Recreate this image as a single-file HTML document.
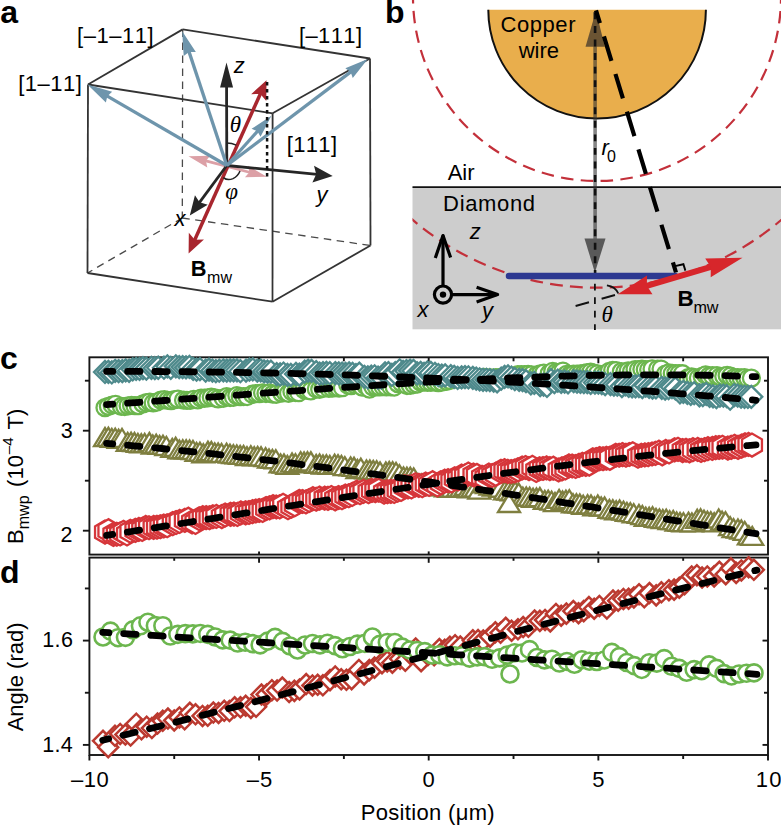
<!DOCTYPE html>
<html><head><meta charset="utf-8"><style>
html,body{margin:0;padding:0;background:#fff;overflow:hidden;}
svg{display:block;}
text{font-kerning:none;}
</style></head><body>
<svg width="781" height="826" viewBox="0 0 781 826">
<rect width="781" height="826" fill="#fff"/>
<text x="0.26" y="23.3" font-size="32" font-family="'Liberation Sans', sans-serif" font-weight="bold">a</text>
<line x1="182.7" y1="29.4" x2="182.3" y2="218" stroke="#4a4a4a" stroke-width="1.3" stroke-dasharray="7.5 5.5"/>
<line x1="182.3" y1="218" x2="87.5" y2="273" stroke="#4a4a4a" stroke-width="1.3" stroke-dasharray="7.5 5.5"/>
<line x1="182.3" y1="218" x2="370.5" y2="245.5" stroke="#4a4a4a" stroke-width="1.3" stroke-dasharray="7.5 5.5"/>
<line x1="88" y1="84.5" x2="182.7" y2="29.4" stroke="#333333" stroke-width="1.8" />
<line x1="182.7" y1="29.4" x2="370" y2="58.5" stroke="#333333" stroke-width="1.8" />
<line x1="370" y1="58.5" x2="272.6" y2="113.3" stroke="#333333" stroke-width="1.8" />
<line x1="272.6" y1="113.3" x2="88" y2="84.5" stroke="#333333" stroke-width="1.8" />
<line x1="88" y1="84.5" x2="87.5" y2="273" stroke="#333333" stroke-width="1.8" />
<line x1="272.6" y1="113.3" x2="272.5" y2="301.7" stroke="#333333" stroke-width="1.8" />
<line x1="370" y1="58.5" x2="370.5" y2="245.5" stroke="#333333" stroke-width="1.8" />
<line x1="87.5" y1="273" x2="272.5" y2="301.7" stroke="#333333" stroke-width="1.8" />
<line x1="272.5" y1="301.7" x2="370.5" y2="245.5" stroke="#333333" stroke-width="1.8" />
<line x1="204.95" y1="160.61" x2="250.35" y2="172.49" stroke="#dca0a6" stroke-width="2.8"/><polygon points="266.8,176.8 244.97,177.29 249.39,172.24 248,165.68" fill="#dca0a6"/><polygon points="188.5,156.3 210.33,155.81 205.91,160.86 207.3,167.42" fill="#dca0a6"/>
<line x1="194.34" y1="240.73" x2="260.76" y2="92.97" stroke="#a8262e" stroke-width="3.5"/><polygon points="266.5,80.2 266.28,100.93 260.35,93.88 251.14,94.13" fill="#a8262e"/><polygon points="188.6,253.5 188.82,232.77 194.75,239.82 203.96,239.57" fill="#a8262e"/>
<line x1="226.8" y1="165.5" x2="226.57" y2="86.6" stroke="#262626" stroke-width="2.8"/><polygon points="226.5,62.6 233.07,87.58 226.57,87.6 220.07,87.62" fill="#262626"/>
<line x1="226.8" y1="165.5" x2="317.18" y2="174.46" stroke="#262626" stroke-width="2.8"/><polygon points="332.7,176 312.37,182.43 316.18,174.36 314.02,165.71" fill="#262626"/>
<line x1="226.8" y1="165.5" x2="198.96" y2="203.12" stroke="#262626" stroke-width="2.8"/><polygon points="189.8,215.5 194.95,195.18 199.56,202.32 207.73,204.63" fill="#262626"/>
<line x1="226.8" y1="165.5" x2="106.43" y2="95.64" stroke="#6e95ac" stroke-width="3.3"/><polygon points="87.4,84.6 112.16,91.74 107.29,96.14 105.89,102.55" fill="#6e95ac"/>
<line x1="226.8" y1="165.5" x2="188.82" y2="51.13" stroke="#6e95ac" stroke-width="3.3"/><polygon points="182.2,31.2 195.84,51.96 189.13,52.08 183.69,55.99" fill="#6e95ac"/>
<line x1="226.8" y1="165.5" x2="351.44" y2="71.36" stroke="#6e95ac" stroke-width="3.3"/><polygon points="367.8,59 352.75,78.07 350.64,71.96 345.34,68.26" fill="#6e95ac"/>
<line x1="226.8" y1="165.5" x2="258.06" y2="130.6" stroke="#6e95ac" stroke-width="3.3"/><polygon points="271.4,115.7 260.53,136.84 257.39,131.34 251.59,128.83" fill="#6e95ac"/>
<line x1="267.1" y1="82" x2="267.1" y2="178" stroke="#111" stroke-width="2.5" stroke-dasharray="3.5 3.5"/>
<path d="M226.8,143 A22.5,22.5 0 0 1 236.29,145.1" fill="none" stroke="#222" stroke-width="1.5"/>
<path d="M223.4,177.6 Q227.5,181 233,178.6 Q238,176.2 240,171" fill="none" stroke="#222" stroke-width="1.5"/>
<text x="77.03" y="42.6" font-size="22" font-family="'Liberation Sans', sans-serif"  letter-spacing="0.52">[–1–11]</text>
<text x="18.23" y="91.1" font-size="22" font-family="'Liberation Sans', sans-serif"  letter-spacing="0.49">[1–11]</text>
<text x="299.03" y="42.6" font-size="22" font-family="'Liberation Sans', sans-serif"  letter-spacing="0.37">[–111]</text>
<text x="286.73" y="152.1" font-size="22" font-family="'Liberation Sans', sans-serif"  letter-spacing="0.35">[111]</text>
<text x="233.73" y="72.8" font-size="22" font-family="'Liberation Sans', sans-serif" font-style="italic">z</text>
<text x="316.47" y="201.8" font-size="22" font-family="'Liberation Sans', sans-serif" font-style="italic">y</text>
<text x="174.57" y="226.1" font-size="22" font-family="'Liberation Sans', sans-serif" font-style="italic">x</text>
<text x="229.78" y="132.3" font-size="23" font-family="'Liberation Serif', serif" font-style="italic">θ</text>
<text x="225.31" y="198.6" font-size="23" font-family="'Liberation Serif', serif" font-style="italic">φ</text>
<text x="190.84" y="275.6" font-size="21.8" font-family="'Liberation Sans', sans-serif" font-weight="bold">B</text>
<text x="206.94" y="282.6" font-size="16" font-family="'Liberation Sans', sans-serif"  letter-spacing="0.14">mw</text>
<text x="385.09" y="23.3" font-size="32" font-family="'Liberation Sans', sans-serif" font-weight="bold">b</text>
<defs><clipPath id="cb"><rect x="412.5" y="0" width="369" height="330"/></clipPath></defs>
<rect x="412.5" y="187" width="369" height="142.3" fill="#cdcdcd"/>
<line x1="412.5" y1="187.1" x2="781" y2="187.1" stroke="#111" stroke-width="1.8"/>
<circle cx="597" cy="-3" r="184" fill="none" stroke="#c3303a" stroke-width="2.2" stroke-dasharray="12.5 7.4" stroke-dashoffset="5.8"/>
<g clip-path="url(#cb)"><circle cx="597" cy="3.3" r="284.4" fill="none" stroke="#c3303a" stroke-width="2.2" stroke-dasharray="12.8 7.2" stroke-dashoffset="19.1"/></g>
<path d="M488.3,9.7 A108.8,108.8 0 0 0 705.9,9.7 Z" fill="#e9ae4c" stroke="none"/>
<path d="M488.3,9.7 A108.8,108.8 0 0 0 705.9,9.7" fill="none" stroke="#111" stroke-width="2"/>
<text x="500.58" y="31.9" font-size="22" font-family="'Liberation Sans', sans-serif"  letter-spacing="0.55">Copper</text>
<text x="518.63" y="58.4" font-size="22" font-family="'Liberation Sans', sans-serif" >wire</text>
<line x1="595.1" y1="12" x2="595.1" y2="262" stroke="#333" stroke-opacity="0.6" stroke-width="3.6"/>
<polygon points="596,10.8 585.5,46.8 604.8,46.8" fill="#6b5433"/>
<polygon points="594.9,272.5 584.5,238.5 605.5,238.5" fill="#595959"/>
<line x1="595.1" y1="10.8" x2="595.1" y2="273" stroke="#111" stroke-width="2.6" stroke-dasharray="6.9 6.65" stroke-dashoffset="11.9"/>
<line x1="596" y1="10.3" x2="676" y2="272.5" stroke="#000" stroke-width="4.2" stroke-dasharray="25.6 13.8" stroke-dashoffset="12.2"/>
<polyline points="675,266.1 683.4,264.2 685.4,270.6" fill="none" stroke="#000" stroke-width="1.9"/>
<line x1="509" y1="276" x2="675" y2="276" stroke="#2d3991" stroke-width="6.5" stroke-linecap="round"/>
<line x1="594.9" y1="283.8" x2="594.9" y2="330" stroke="#111" stroke-width="1.8" stroke-dasharray="6.6 6.9"/>
<line x1="615" y1="295" x2="572" y2="307" stroke="#111" stroke-width="1.9" stroke-dasharray="13.9 13.1"/>
<path d="M606.9,285.3 Q615.5,286.5 618.3,293.5" fill="none" stroke="#111" stroke-width="1.8"/>
<line x1="645.91" y1="286.03" x2="711.79" y2="266.71" stroke="#d7262b" stroke-width="6"/><polygon points="742.5,257.7 710.7,277.19 710.83,266.99 705.21,258.48" fill="#d7262b"/><polygon points="617.7,294.3 647.01,275.54 646.87,285.74 652.49,294.26" fill="#d7262b"/>
<text x="601.38" y="321.5" font-size="23" font-family="'Liberation Serif', serif" font-style="italic">θ</text>
<text x="677.6" y="306.3" font-size="22.4" font-family="'Liberation Sans', sans-serif" font-weight="bold">B</text>
<text x="693.42" y="313" font-size="16.2" font-family="'Liberation Sans', sans-serif"  letter-spacing="-0.16">mw</text>
<text x="601.43" y="155.2" font-size="22" font-family="'Liberation Sans', sans-serif" font-style="italic">r</text>
<text x="607.08" y="161.9" font-size="16" font-family="'Liberation Sans', sans-serif" >0</text>
<text x="447.66" y="179.5" font-size="22" font-family="'Liberation Sans', sans-serif" >Air</text>
<text x="443.1" y="211.2" font-size="22" font-family="'Liberation Sans', sans-serif"  letter-spacing="0.65">Diamond</text>
<circle cx="443" cy="294.6" r="8.6" fill="none" stroke="#000" stroke-width="3.2"/>
<circle cx="443" cy="294.6" r="3.2" fill="#000"/>
<line x1="443" y1="286" x2="443" y2="235.5" stroke="#000" stroke-width="3.2"/>
<polyline points="435.3,258 443,235.6 450.6,257.5" fill="none" stroke="#000" stroke-width="3.2" stroke-linejoin="round"/>
<line x1="451.6" y1="294.6" x2="496.5" y2="294.6" stroke="#000" stroke-width="3.2"/>
<polyline points="476.6,287.2 497.6,294.6 476.6,302" fill="none" stroke="#000" stroke-width="3.2" stroke-linejoin="round"/>
<text x="469.83" y="239.3" font-size="22" font-family="'Liberation Sans', sans-serif" font-style="italic">z</text>
<text x="417.57" y="317.2" font-size="22" font-family="'Liberation Sans', sans-serif" font-style="italic">x</text>
<text x="482.12" y="318.1" font-size="22" font-family="'Liberation Sans', sans-serif" font-style="italic">y</text>
<rect x="89.4" y="357.3" width="678.6" height="197.3" fill="none" stroke="#161616" stroke-width="1.9"/>
<rect x="89.4" y="557.6" width="678.6" height="197.4" fill="none" stroke="#161616" stroke-width="1.9"/>
<line x1="89.4" y1="755" x2="89.4" y2="760.5" stroke="#161616" stroke-width="1.9"/>
<line x1="174.23" y1="357.3" x2="174.23" y2="361.3" stroke="#161616" stroke-width="1.9"/>
<line x1="174.23" y1="557.6" x2="174.23" y2="560.8" stroke="#161616" stroke-width="1.9"/>
<line x1="174.23" y1="755" x2="174.23" y2="759" stroke="#161616" stroke-width="1.9"/>
<line x1="259.05" y1="357.3" x2="259.05" y2="363.3" stroke="#161616" stroke-width="1.9"/>
<line x1="259.05" y1="554.6" x2="259.05" y2="551.4" stroke="#161616" stroke-width="1.9"/>
<line x1="259.05" y1="557.6" x2="259.05" y2="562.8" stroke="#161616" stroke-width="1.9"/>
<line x1="259.05" y1="755" x2="259.05" y2="760.5" stroke="#161616" stroke-width="1.9"/>
<line x1="343.88" y1="357.3" x2="343.88" y2="361.3" stroke="#161616" stroke-width="1.9"/>
<line x1="343.88" y1="557.6" x2="343.88" y2="560.8" stroke="#161616" stroke-width="1.9"/>
<line x1="343.88" y1="755" x2="343.88" y2="759" stroke="#161616" stroke-width="1.9"/>
<line x1="428.7" y1="357.3" x2="428.7" y2="363.3" stroke="#161616" stroke-width="1.9"/>
<line x1="428.7" y1="554.6" x2="428.7" y2="551.4" stroke="#161616" stroke-width="1.9"/>
<line x1="428.7" y1="557.6" x2="428.7" y2="562.8" stroke="#161616" stroke-width="1.9"/>
<line x1="428.7" y1="755" x2="428.7" y2="760.5" stroke="#161616" stroke-width="1.9"/>
<line x1="513.52" y1="357.3" x2="513.52" y2="361.3" stroke="#161616" stroke-width="1.9"/>
<line x1="513.52" y1="557.6" x2="513.52" y2="560.8" stroke="#161616" stroke-width="1.9"/>
<line x1="513.52" y1="755" x2="513.52" y2="759" stroke="#161616" stroke-width="1.9"/>
<line x1="598.35" y1="357.3" x2="598.35" y2="363.3" stroke="#161616" stroke-width="1.9"/>
<line x1="598.35" y1="554.6" x2="598.35" y2="551.4" stroke="#161616" stroke-width="1.9"/>
<line x1="598.35" y1="557.6" x2="598.35" y2="562.8" stroke="#161616" stroke-width="1.9"/>
<line x1="598.35" y1="755" x2="598.35" y2="760.5" stroke="#161616" stroke-width="1.9"/>
<line x1="683.17" y1="357.3" x2="683.17" y2="361.3" stroke="#161616" stroke-width="1.9"/>
<line x1="683.17" y1="557.6" x2="683.17" y2="560.8" stroke="#161616" stroke-width="1.9"/>
<line x1="683.17" y1="755" x2="683.17" y2="759" stroke="#161616" stroke-width="1.9"/>
<line x1="768" y1="755" x2="768" y2="760.5" stroke="#161616" stroke-width="1.9"/>
<line x1="89.4" y1="530.7" x2="82.9" y2="530.7" stroke="#161616" stroke-width="1.9"/>
<line x1="768" y1="530.7" x2="762.5" y2="530.7" stroke="#161616" stroke-width="1.9"/>
<line x1="89.4" y1="480.7" x2="84.9" y2="480.7" stroke="#161616" stroke-width="1.9"/>
<line x1="768" y1="480.7" x2="764" y2="480.7" stroke="#161616" stroke-width="1.9"/>
<line x1="89.4" y1="430.7" x2="82.9" y2="430.7" stroke="#161616" stroke-width="1.9"/>
<line x1="768" y1="430.7" x2="762.5" y2="430.7" stroke="#161616" stroke-width="1.9"/>
<line x1="89.4" y1="380.7" x2="84.9" y2="380.7" stroke="#161616" stroke-width="1.9"/>
<line x1="768" y1="380.7" x2="764" y2="380.7" stroke="#161616" stroke-width="1.9"/>
<line x1="89.4" y1="744.9" x2="82.9" y2="744.9" stroke="#161616" stroke-width="1.9"/>
<line x1="768" y1="744.9" x2="762.5" y2="744.9" stroke="#161616" stroke-width="1.9"/>
<line x1="89.4" y1="692.75" x2="84.9" y2="692.75" stroke="#161616" stroke-width="1.9"/>
<line x1="768" y1="692.75" x2="764" y2="692.75" stroke="#161616" stroke-width="1.9"/>
<line x1="89.4" y1="640.6" x2="82.9" y2="640.6" stroke="#161616" stroke-width="1.9"/>
<line x1="768" y1="640.6" x2="762.5" y2="640.6" stroke="#161616" stroke-width="1.9"/>
<line x1="89.4" y1="588.45" x2="84.9" y2="588.45" stroke="#161616" stroke-width="1.9"/>
<line x1="768" y1="588.45" x2="764" y2="588.45" stroke="#161616" stroke-width="1.9"/>
<text x="60.78" y="438.4" font-size="21.5" font-family="'Liberation Sans', sans-serif" >3</text>
<text x="60.52" y="542.4" font-size="21.5" font-family="'Liberation Sans', sans-serif" >2</text>
<text x="42.16" y="647.2" font-size="21.5" font-family="'Liberation Sans', sans-serif"  letter-spacing="0.45">1.6</text>
<text x="42.16" y="751.5" font-size="21.5" font-family="'Liberation Sans', sans-serif"  letter-spacing="0.29">1.4</text>
<text x="70.88" y="786.6" font-size="22" font-family="'Liberation Sans', sans-serif"  letter-spacing="0.6">–10</text>
<text x="246.68" y="786.6" font-size="22" font-family="'Liberation Sans', sans-serif"  letter-spacing="1.2">–5</text>
<text x="422.58" y="786.6" font-size="22" font-family="'Liberation Sans', sans-serif" >0</text>
<text x="592.25" y="786.6" font-size="22" font-family="'Liberation Sans', sans-serif" >5</text>
<text x="755.76" y="786.6" font-size="22" font-family="'Liberation Sans', sans-serif"  letter-spacing="1.2">10</text>
<text x="360.7" y="819.8" font-size="22" font-family="'Liberation Sans', sans-serif"  letter-spacing="0.33">Position (μm)</text>
<text x="-0.05" y="368.9" font-size="32" font-family="'Liberation Sans', sans-serif" font-weight="bold">c</text>
<text x="-0.11" y="583.2" font-size="32" font-family="'Liberation Sans', sans-serif" font-weight="bold">d</text>
<text transform="translate(22.8,544) rotate(-90)" font-size="22" font-family="Liberation Sans, sans-serif">B<tspan font-size="16" x="14.8" dy="6.2">mwp</tspan><tspan x="57.1" dy="-6.2">(10</tspan><tspan font-size="15" x="89.8" dy="-10.2">–4</tspan><tspan x="114.5" dy="10.2">T)</tspan></text>
<text transform="translate(22.8,731.3) rotate(-90)" font-size="22" font-family="Liberation Sans, sans-serif">Angle (rad)</text>
<g>
<circle cx="105" cy="407.64" r="8.5" fill="#fff" stroke="#6cb64e" stroke-width="2.3"/>
<circle cx="108.4" cy="406.36" r="8.5" fill="#fff" stroke="#6cb64e" stroke-width="2.3"/>
<circle cx="112.17" cy="405.03" r="8.5" fill="#fff" stroke="#6cb64e" stroke-width="2.3"/>
<circle cx="115.57" cy="404.42" r="8.5" fill="#fff" stroke="#6cb64e" stroke-width="2.3"/>
<circle cx="121.34" cy="406.31" r="8.5" fill="#fff" stroke="#6cb64e" stroke-width="2.3"/>
<circle cx="124.74" cy="406.54" r="8.5" fill="#fff" stroke="#6cb64e" stroke-width="2.3"/>
<circle cx="128.14" cy="405.81" r="8.5" fill="#fff" stroke="#6cb64e" stroke-width="2.3"/>
<circle cx="131.54" cy="405.42" r="8.5" fill="#fff" stroke="#6cb64e" stroke-width="2.3"/>
<circle cx="134.94" cy="405.68" r="8.5" fill="#fff" stroke="#6cb64e" stroke-width="2.3"/>
<circle cx="138.34" cy="405.65" r="8.5" fill="#fff" stroke="#6cb64e" stroke-width="2.3"/>
<circle cx="143.02" cy="403.88" r="8.5" fill="#fff" stroke="#6cb64e" stroke-width="2.3"/>
<circle cx="146.42" cy="402.7" r="8.5" fill="#fff" stroke="#6cb64e" stroke-width="2.3"/>
<circle cx="149.82" cy="402.06" r="8.5" fill="#fff" stroke="#6cb64e" stroke-width="2.3"/>
<circle cx="153.22" cy="402.96" r="8.5" fill="#fff" stroke="#6cb64e" stroke-width="2.3"/>
<circle cx="156.62" cy="402.08" r="8.5" fill="#fff" stroke="#6cb64e" stroke-width="2.3"/>
<circle cx="160.9" cy="400.13" r="8.5" fill="#fff" stroke="#6cb64e" stroke-width="2.3"/>
<circle cx="164.3" cy="399.7" r="8.5" fill="#fff" stroke="#6cb64e" stroke-width="2.3"/>
<circle cx="167.7" cy="400.37" r="8.5" fill="#fff" stroke="#6cb64e" stroke-width="2.3"/>
<circle cx="171.1" cy="400.64" r="8.5" fill="#fff" stroke="#6cb64e" stroke-width="2.3"/>
<circle cx="174.5" cy="399.71" r="8.5" fill="#fff" stroke="#6cb64e" stroke-width="2.3"/>
<circle cx="177.9" cy="399.16" r="8.5" fill="#fff" stroke="#6cb64e" stroke-width="2.3"/>
<circle cx="183.54" cy="400.11" r="8.5" fill="#fff" stroke="#6cb64e" stroke-width="2.3"/>
<circle cx="186.94" cy="400.37" r="8.5" fill="#fff" stroke="#6cb64e" stroke-width="2.3"/>
<circle cx="190.34" cy="400.41" r="8.5" fill="#fff" stroke="#6cb64e" stroke-width="2.3"/>
<circle cx="193.74" cy="399.41" r="8.5" fill="#fff" stroke="#6cb64e" stroke-width="2.3"/>
<circle cx="197.69" cy="399.81" r="8.5" fill="#fff" stroke="#6cb64e" stroke-width="2.3"/>
<circle cx="201.09" cy="398.13" r="8.5" fill="#fff" stroke="#6cb64e" stroke-width="2.3"/>
<circle cx="204.49" cy="398.25" r="8.5" fill="#fff" stroke="#6cb64e" stroke-width="2.3"/>
<circle cx="207.89" cy="397.89" r="8.5" fill="#fff" stroke="#6cb64e" stroke-width="2.3"/>
<circle cx="211.29" cy="397.1" r="8.5" fill="#fff" stroke="#6cb64e" stroke-width="2.3"/>
<circle cx="214.73" cy="397.84" r="8.5" fill="#fff" stroke="#6cb64e" stroke-width="2.3"/>
<circle cx="218.13" cy="398.86" r="8.5" fill="#fff" stroke="#6cb64e" stroke-width="2.3"/>
<circle cx="223.26" cy="398.26" r="8.5" fill="#fff" stroke="#6cb64e" stroke-width="2.3"/>
<circle cx="226.66" cy="396.63" r="8.5" fill="#fff" stroke="#6cb64e" stroke-width="2.3"/>
<circle cx="230.06" cy="397.55" r="8.5" fill="#fff" stroke="#6cb64e" stroke-width="2.3"/>
<circle cx="233.46" cy="397.29" r="8.5" fill="#fff" stroke="#6cb64e" stroke-width="2.3"/>
<circle cx="236.86" cy="395.61" r="8.5" fill="#fff" stroke="#6cb64e" stroke-width="2.3"/>
<circle cx="240.26" cy="396.63" r="8.5" fill="#fff" stroke="#6cb64e" stroke-width="2.3"/>
<circle cx="243.72" cy="396.53" r="8.5" fill="#fff" stroke="#6cb64e" stroke-width="2.3"/>
<circle cx="247.12" cy="396.53" r="8.5" fill="#fff" stroke="#6cb64e" stroke-width="2.3"/>
<circle cx="252.37" cy="394.24" r="8.5" fill="#fff" stroke="#6cb64e" stroke-width="2.3"/>
<circle cx="255.77" cy="393.56" r="8.5" fill="#fff" stroke="#6cb64e" stroke-width="2.3"/>
<circle cx="259.17" cy="393.67" r="8.5" fill="#fff" stroke="#6cb64e" stroke-width="2.3"/>
<circle cx="262.57" cy="392.81" r="8.5" fill="#fff" stroke="#6cb64e" stroke-width="2.3"/>
<circle cx="265.97" cy="393.53" r="8.5" fill="#fff" stroke="#6cb64e" stroke-width="2.3"/>
<circle cx="269.37" cy="392.99" r="8.5" fill="#fff" stroke="#6cb64e" stroke-width="2.3"/>
<circle cx="272.81" cy="394.18" r="8.5" fill="#fff" stroke="#6cb64e" stroke-width="2.3"/>
<circle cx="276.21" cy="394.25" r="8.5" fill="#fff" stroke="#6cb64e" stroke-width="2.3"/>
<circle cx="281.74" cy="393.07" r="8.5" fill="#fff" stroke="#6cb64e" stroke-width="2.3"/>
<circle cx="285.14" cy="392.28" r="8.5" fill="#fff" stroke="#6cb64e" stroke-width="2.3"/>
<circle cx="288.54" cy="393.39" r="8.5" fill="#fff" stroke="#6cb64e" stroke-width="2.3"/>
<circle cx="291.94" cy="391.63" r="8.5" fill="#fff" stroke="#6cb64e" stroke-width="2.3"/>
<circle cx="295.34" cy="392.48" r="8.5" fill="#fff" stroke="#6cb64e" stroke-width="2.3"/>
<circle cx="298.74" cy="392.68" r="8.5" fill="#fff" stroke="#6cb64e" stroke-width="2.3"/>
<circle cx="304.01" cy="389.72" r="8.5" fill="#fff" stroke="#6cb64e" stroke-width="2.3"/>
<circle cx="307.41" cy="390.41" r="8.5" fill="#fff" stroke="#6cb64e" stroke-width="2.3"/>
<circle cx="310.81" cy="390.93" r="8.5" fill="#fff" stroke="#6cb64e" stroke-width="2.3"/>
<circle cx="316.32" cy="389.01" r="8.5" fill="#fff" stroke="#6cb64e" stroke-width="2.3"/>
<circle cx="319.72" cy="389.3" r="8.5" fill="#fff" stroke="#6cb64e" stroke-width="2.3"/>
<circle cx="323.12" cy="388.36" r="8.5" fill="#fff" stroke="#6cb64e" stroke-width="2.3"/>
<circle cx="328.84" cy="388.47" r="8.5" fill="#fff" stroke="#6cb64e" stroke-width="2.3"/>
<circle cx="332.24" cy="388.12" r="8.5" fill="#fff" stroke="#6cb64e" stroke-width="2.3"/>
<circle cx="335.64" cy="387.57" r="8.5" fill="#fff" stroke="#6cb64e" stroke-width="2.3"/>
<circle cx="339.04" cy="388.01" r="8.5" fill="#fff" stroke="#6cb64e" stroke-width="2.3"/>
<circle cx="342.44" cy="387.72" r="8.5" fill="#fff" stroke="#6cb64e" stroke-width="2.3"/>
<circle cx="347.74" cy="384.82" r="8.5" fill="#fff" stroke="#6cb64e" stroke-width="2.3"/>
<circle cx="351.14" cy="385.6" r="8.5" fill="#fff" stroke="#6cb64e" stroke-width="2.3"/>
<circle cx="354.54" cy="384.53" r="8.5" fill="#fff" stroke="#6cb64e" stroke-width="2.3"/>
<circle cx="357.94" cy="383.56" r="8.5" fill="#fff" stroke="#6cb64e" stroke-width="2.3"/>
<circle cx="362.23" cy="387.06" r="8.5" fill="#fff" stroke="#6cb64e" stroke-width="2.3"/>
<circle cx="365.63" cy="385.61" r="8.5" fill="#fff" stroke="#6cb64e" stroke-width="2.3"/>
<circle cx="369.43" cy="389.13" r="8.5" fill="#fff" stroke="#6cb64e" stroke-width="2.3"/>
<circle cx="372.83" cy="386.87" r="8.5" fill="#fff" stroke="#6cb64e" stroke-width="2.3"/>
<circle cx="376.33" cy="386.84" r="8.5" fill="#fff" stroke="#6cb64e" stroke-width="2.3"/>
<circle cx="379.73" cy="386.95" r="8.5" fill="#fff" stroke="#6cb64e" stroke-width="2.3"/>
<circle cx="383.13" cy="386.69" r="8.5" fill="#fff" stroke="#6cb64e" stroke-width="2.3"/>
<circle cx="386.53" cy="386.8" r="8.5" fill="#fff" stroke="#6cb64e" stroke-width="2.3"/>
<circle cx="390.81" cy="386.79" r="8.5" fill="#fff" stroke="#6cb64e" stroke-width="2.3"/>
<circle cx="394.21" cy="387.03" r="8.5" fill="#fff" stroke="#6cb64e" stroke-width="2.3"/>
<circle cx="397.9" cy="383.67" r="8.5" fill="#fff" stroke="#6cb64e" stroke-width="2.3"/>
<circle cx="401.3" cy="382.63" r="8.5" fill="#fff" stroke="#6cb64e" stroke-width="2.3"/>
<circle cx="406.97" cy="385.51" r="8.5" fill="#fff" stroke="#6cb64e" stroke-width="2.3"/>
<circle cx="410.37" cy="385.43" r="8.5" fill="#fff" stroke="#6cb64e" stroke-width="2.3"/>
<circle cx="413.77" cy="384.55" r="8.5" fill="#fff" stroke="#6cb64e" stroke-width="2.3"/>
<circle cx="417.17" cy="384" r="8.5" fill="#fff" stroke="#6cb64e" stroke-width="2.3"/>
<circle cx="420.69" cy="382.07" r="8.5" fill="#fff" stroke="#6cb64e" stroke-width="2.3"/>
<circle cx="424.09" cy="382.22" r="8.5" fill="#fff" stroke="#6cb64e" stroke-width="2.3"/>
<circle cx="427.49" cy="382.29" r="8.5" fill="#fff" stroke="#6cb64e" stroke-width="2.3"/>
<circle cx="430.89" cy="382.31" r="8.5" fill="#fff" stroke="#6cb64e" stroke-width="2.3"/>
<circle cx="434.29" cy="381.76" r="8.5" fill="#fff" stroke="#6cb64e" stroke-width="2.3"/>
<circle cx="438.31" cy="382.65" r="8.5" fill="#fff" stroke="#6cb64e" stroke-width="2.3"/>
<circle cx="441.71" cy="382.16" r="8.5" fill="#fff" stroke="#6cb64e" stroke-width="2.3"/>
<circle cx="446.63" cy="381.39" r="8.5" fill="#fff" stroke="#6cb64e" stroke-width="2.3"/>
<circle cx="450.03" cy="380.46" r="8.5" fill="#fff" stroke="#6cb64e" stroke-width="2.3"/>
<circle cx="454.32" cy="379.04" r="8.5" fill="#fff" stroke="#6cb64e" stroke-width="2.3"/>
<circle cx="457.72" cy="378.9" r="8.5" fill="#fff" stroke="#6cb64e" stroke-width="2.3"/>
<circle cx="461.12" cy="378.79" r="8.5" fill="#fff" stroke="#6cb64e" stroke-width="2.3"/>
<circle cx="464.52" cy="378.6" r="8.5" fill="#fff" stroke="#6cb64e" stroke-width="2.3"/>
<circle cx="467.92" cy="378.23" r="8.5" fill="#fff" stroke="#6cb64e" stroke-width="2.3"/>
<circle cx="471.32" cy="378.04" r="8.5" fill="#fff" stroke="#6cb64e" stroke-width="2.3"/>
<circle cx="477.17" cy="377.66" r="8.5" fill="#fff" stroke="#6cb64e" stroke-width="2.3"/>
<circle cx="480.57" cy="378.02" r="8.5" fill="#fff" stroke="#6cb64e" stroke-width="2.3"/>
<circle cx="483.97" cy="377.51" r="8.5" fill="#fff" stroke="#6cb64e" stroke-width="2.3"/>
<circle cx="487.37" cy="378" r="8.5" fill="#fff" stroke="#6cb64e" stroke-width="2.3"/>
<circle cx="490.77" cy="377.96" r="8.5" fill="#fff" stroke="#6cb64e" stroke-width="2.3"/>
<circle cx="495.76" cy="377.67" r="8.5" fill="#fff" stroke="#6cb64e" stroke-width="2.3"/>
<circle cx="499.16" cy="377.69" r="8.5" fill="#fff" stroke="#6cb64e" stroke-width="2.3"/>
<circle cx="502.56" cy="377.34" r="8.5" fill="#fff" stroke="#6cb64e" stroke-width="2.3"/>
<circle cx="505.96" cy="377.73" r="8.5" fill="#fff" stroke="#6cb64e" stroke-width="2.3"/>
<circle cx="509.36" cy="377.36" r="8.5" fill="#fff" stroke="#6cb64e" stroke-width="2.3"/>
<circle cx="514.49" cy="375.82" r="8.5" fill="#fff" stroke="#6cb64e" stroke-width="2.3"/>
<circle cx="517.89" cy="374.69" r="8.5" fill="#fff" stroke="#6cb64e" stroke-width="2.3"/>
<circle cx="521.29" cy="374.58" r="8.5" fill="#fff" stroke="#6cb64e" stroke-width="2.3"/>
<circle cx="524.69" cy="374.77" r="8.5" fill="#fff" stroke="#6cb64e" stroke-width="2.3"/>
<circle cx="528.09" cy="374.42" r="8.5" fill="#fff" stroke="#6cb64e" stroke-width="2.3"/>
<circle cx="531.49" cy="374.81" r="8.5" fill="#fff" stroke="#6cb64e" stroke-width="2.3"/>
<circle cx="536.92" cy="374.88" r="8.5" fill="#fff" stroke="#6cb64e" stroke-width="2.3"/>
<circle cx="540.32" cy="374.01" r="8.5" fill="#fff" stroke="#6cb64e" stroke-width="2.3"/>
<circle cx="543.72" cy="373.17" r="8.5" fill="#fff" stroke="#6cb64e" stroke-width="2.3"/>
<circle cx="549.31" cy="373.42" r="8.5" fill="#fff" stroke="#6cb64e" stroke-width="2.3"/>
<circle cx="552.71" cy="371.32" r="8.5" fill="#fff" stroke="#6cb64e" stroke-width="2.3"/>
<circle cx="556.11" cy="372.42" r="8.5" fill="#fff" stroke="#6cb64e" stroke-width="2.3"/>
<circle cx="559.51" cy="372.36" r="8.5" fill="#fff" stroke="#6cb64e" stroke-width="2.3"/>
<circle cx="562.91" cy="371.06" r="8.5" fill="#fff" stroke="#6cb64e" stroke-width="2.3"/>
<circle cx="566.66" cy="374.42" r="8.5" fill="#fff" stroke="#6cb64e" stroke-width="2.3"/>
<circle cx="570.06" cy="374.74" r="8.5" fill="#fff" stroke="#6cb64e" stroke-width="2.3"/>
<circle cx="573.46" cy="374.18" r="8.5" fill="#fff" stroke="#6cb64e" stroke-width="2.3"/>
<circle cx="576.86" cy="374.2" r="8.5" fill="#fff" stroke="#6cb64e" stroke-width="2.3"/>
<circle cx="580.26" cy="373.84" r="8.5" fill="#fff" stroke="#6cb64e" stroke-width="2.3"/>
<circle cx="583.83" cy="373.52" r="8.5" fill="#fff" stroke="#6cb64e" stroke-width="2.3"/>
<circle cx="587.23" cy="372.66" r="8.5" fill="#fff" stroke="#6cb64e" stroke-width="2.3"/>
<circle cx="590.63" cy="372.24" r="8.5" fill="#fff" stroke="#6cb64e" stroke-width="2.3"/>
<circle cx="594.03" cy="373.05" r="8.5" fill="#fff" stroke="#6cb64e" stroke-width="2.3"/>
<circle cx="597.43" cy="373.78" r="8.5" fill="#fff" stroke="#6cb64e" stroke-width="2.3"/>
<circle cx="601.87" cy="374.56" r="8.5" fill="#fff" stroke="#6cb64e" stroke-width="2.3"/>
<circle cx="605.27" cy="374.7" r="8.5" fill="#fff" stroke="#6cb64e" stroke-width="2.3"/>
<circle cx="609.31" cy="371.29" r="8.5" fill="#fff" stroke="#6cb64e" stroke-width="2.3"/>
<circle cx="612.71" cy="370.51" r="8.5" fill="#fff" stroke="#6cb64e" stroke-width="2.3"/>
<circle cx="616.11" cy="370.66" r="8.5" fill="#fff" stroke="#6cb64e" stroke-width="2.3"/>
<circle cx="621.36" cy="371.59" r="8.5" fill="#fff" stroke="#6cb64e" stroke-width="2.3"/>
<circle cx="624.76" cy="372.06" r="8.5" fill="#fff" stroke="#6cb64e" stroke-width="2.3"/>
<circle cx="628.16" cy="371.01" r="8.5" fill="#fff" stroke="#6cb64e" stroke-width="2.3"/>
<circle cx="631.56" cy="371.65" r="8.5" fill="#fff" stroke="#6cb64e" stroke-width="2.3"/>
<circle cx="635.09" cy="369.56" r="8.5" fill="#fff" stroke="#6cb64e" stroke-width="2.3"/>
<circle cx="638.49" cy="369.72" r="8.5" fill="#fff" stroke="#6cb64e" stroke-width="2.3"/>
<circle cx="641.89" cy="369.17" r="8.5" fill="#fff" stroke="#6cb64e" stroke-width="2.3"/>
<circle cx="645.29" cy="369.6" r="8.5" fill="#fff" stroke="#6cb64e" stroke-width="2.3"/>
<circle cx="648.69" cy="369.75" r="8.5" fill="#fff" stroke="#6cb64e" stroke-width="2.3"/>
<circle cx="652.09" cy="368.88" r="8.5" fill="#fff" stroke="#6cb64e" stroke-width="2.3"/>
<circle cx="657.68" cy="369.06" r="8.5" fill="#fff" stroke="#6cb64e" stroke-width="2.3"/>
<circle cx="661.08" cy="369.07" r="8.5" fill="#fff" stroke="#6cb64e" stroke-width="2.3"/>
<circle cx="665.49" cy="374.07" r="8.5" fill="#fff" stroke="#6cb64e" stroke-width="2.3"/>
<circle cx="668.89" cy="372.8" r="8.5" fill="#fff" stroke="#6cb64e" stroke-width="2.3"/>
<circle cx="672.29" cy="373.48" r="8.5" fill="#fff" stroke="#6cb64e" stroke-width="2.3"/>
<circle cx="675.69" cy="373.65" r="8.5" fill="#fff" stroke="#6cb64e" stroke-width="2.3"/>
<circle cx="679.09" cy="373.54" r="8.5" fill="#fff" stroke="#6cb64e" stroke-width="2.3"/>
<circle cx="682.49" cy="373.77" r="8.5" fill="#fff" stroke="#6cb64e" stroke-width="2.3"/>
<circle cx="688.18" cy="377.64" r="8.5" fill="#fff" stroke="#6cb64e" stroke-width="2.3"/>
<circle cx="691.58" cy="376.83" r="8.5" fill="#fff" stroke="#6cb64e" stroke-width="2.3"/>
<circle cx="694.98" cy="377.61" r="8.5" fill="#fff" stroke="#6cb64e" stroke-width="2.3"/>
<circle cx="698.38" cy="378.05" r="8.5" fill="#fff" stroke="#6cb64e" stroke-width="2.3"/>
<circle cx="702.24" cy="376.51" r="8.5" fill="#fff" stroke="#6cb64e" stroke-width="2.3"/>
<circle cx="705.64" cy="374.9" r="8.5" fill="#fff" stroke="#6cb64e" stroke-width="2.3"/>
<circle cx="709.04" cy="376.01" r="8.5" fill="#fff" stroke="#6cb64e" stroke-width="2.3"/>
<circle cx="712.44" cy="375.77" r="8.5" fill="#fff" stroke="#6cb64e" stroke-width="2.3"/>
<circle cx="716.96" cy="375.57" r="8.5" fill="#fff" stroke="#6cb64e" stroke-width="2.3"/>
<circle cx="720.36" cy="376.71" r="8.5" fill="#fff" stroke="#6cb64e" stroke-width="2.3"/>
<circle cx="723.76" cy="376.18" r="8.5" fill="#fff" stroke="#6cb64e" stroke-width="2.3"/>
<circle cx="727.16" cy="375.38" r="8.5" fill="#fff" stroke="#6cb64e" stroke-width="2.3"/>
<circle cx="730.56" cy="376.21" r="8.5" fill="#fff" stroke="#6cb64e" stroke-width="2.3"/>
<circle cx="734.38" cy="377.53" r="8.5" fill="#fff" stroke="#6cb64e" stroke-width="2.3"/>
<circle cx="737.78" cy="377.56" r="8.5" fill="#fff" stroke="#6cb64e" stroke-width="2.3"/>
<circle cx="741.18" cy="377.92" r="8.5" fill="#fff" stroke="#6cb64e" stroke-width="2.3"/>
<circle cx="744.58" cy="377.62" r="8.5" fill="#fff" stroke="#6cb64e" stroke-width="2.3"/>
<circle cx="747.98" cy="378.57" r="8.5" fill="#fff" stroke="#6cb64e" stroke-width="2.3"/>
<circle cx="751.38" cy="378.08" r="8.5" fill="#fff" stroke="#6cb64e" stroke-width="2.3"/>
<polygon points="94,371.94 105,360.94 116,371.94 105,382.94" fill="#fff" stroke="#4f8a8c" stroke-width="2.3"/>
<polygon points="97.4,371.92 108.4,360.92 119.4,371.92 108.4,382.92" fill="#fff" stroke="#4f8a8c" stroke-width="2.3"/>
<polygon points="100.8,372.46 111.8,361.46 122.8,372.46 111.8,383.46" fill="#fff" stroke="#4f8a8c" stroke-width="2.3"/>
<polygon points="104.2,370.76 115.2,359.76 126.2,370.76 115.2,381.76" fill="#fff" stroke="#4f8a8c" stroke-width="2.3"/>
<polygon points="107.6,371.11 118.6,360.11 129.6,371.11 118.6,382.11" fill="#fff" stroke="#4f8a8c" stroke-width="2.3"/>
<polygon points="111.29,371.04 122.29,360.04 133.29,371.04 122.29,382.04" fill="#fff" stroke="#4f8a8c" stroke-width="2.3"/>
<polygon points="114.69,370.43 125.69,359.43 136.69,370.43 125.69,381.43" fill="#fff" stroke="#4f8a8c" stroke-width="2.3"/>
<polygon points="118.09,370.75 129.09,359.75 140.09,370.75 129.09,381.75" fill="#fff" stroke="#4f8a8c" stroke-width="2.3"/>
<polygon points="121.75,369.29 132.75,358.29 143.75,369.29 132.75,380.29" fill="#fff" stroke="#4f8a8c" stroke-width="2.3"/>
<polygon points="125.15,368.77 136.15,357.77 147.15,368.77 136.15,379.77" fill="#fff" stroke="#4f8a8c" stroke-width="2.3"/>
<polygon points="128.55,368.81 139.55,357.81 150.55,368.81 139.55,379.81" fill="#fff" stroke="#4f8a8c" stroke-width="2.3"/>
<polygon points="131.95,368.22 142.95,357.22 153.95,368.22 142.95,379.22" fill="#fff" stroke="#4f8a8c" stroke-width="2.3"/>
<polygon points="135.35,368.64 146.35,357.64 157.35,368.64 146.35,379.64" fill="#fff" stroke="#4f8a8c" stroke-width="2.3"/>
<polygon points="140.43,367.78 151.43,356.78 162.43,367.78 151.43,378.78" fill="#fff" stroke="#4f8a8c" stroke-width="2.3"/>
<polygon points="143.83,368.03 154.83,357.03 165.83,368.03 154.83,379.03" fill="#fff" stroke="#4f8a8c" stroke-width="2.3"/>
<polygon points="147.23,367.75 158.23,356.75 169.23,367.75 158.23,378.75" fill="#fff" stroke="#4f8a8c" stroke-width="2.3"/>
<polygon points="152.97,367.71 163.97,356.71 174.97,367.71 163.97,378.71" fill="#fff" stroke="#4f8a8c" stroke-width="2.3"/>
<polygon points="156.37,366.32 167.37,355.32 178.37,366.32 167.37,377.32" fill="#fff" stroke="#4f8a8c" stroke-width="2.3"/>
<polygon points="159.77,367.79 170.77,356.79 181.77,367.79 170.77,378.79" fill="#fff" stroke="#4f8a8c" stroke-width="2.3"/>
<polygon points="164.83,366.35 175.83,355.35 186.83,366.35 175.83,377.35" fill="#fff" stroke="#4f8a8c" stroke-width="2.3"/>
<polygon points="168.23,367.11 179.23,356.11 190.23,367.11 179.23,378.11" fill="#fff" stroke="#4f8a8c" stroke-width="2.3"/>
<polygon points="171.63,367.07 182.63,356.07 193.63,367.07 182.63,378.07" fill="#fff" stroke="#4f8a8c" stroke-width="2.3"/>
<polygon points="175.03,367.37 186.03,356.37 197.03,367.37 186.03,378.37" fill="#fff" stroke="#4f8a8c" stroke-width="2.3"/>
<polygon points="178.43,366.97 189.43,355.97 200.43,366.97 189.43,377.97" fill="#fff" stroke="#4f8a8c" stroke-width="2.3"/>
<polygon points="182.16,368.79 193.16,357.79 204.16,368.79 193.16,379.79" fill="#fff" stroke="#4f8a8c" stroke-width="2.3"/>
<polygon points="185.56,369.74 196.56,358.74 207.56,369.74 196.56,380.74" fill="#fff" stroke="#4f8a8c" stroke-width="2.3"/>
<polygon points="188.96,369.13 199.96,358.13 210.96,369.13 199.96,380.13" fill="#fff" stroke="#4f8a8c" stroke-width="2.3"/>
<polygon points="194.65,370.52 205.65,359.52 216.65,370.52 205.65,381.52" fill="#fff" stroke="#4f8a8c" stroke-width="2.3"/>
<polygon points="198.05,369.64 209.05,358.64 220.05,369.64 209.05,380.64" fill="#fff" stroke="#4f8a8c" stroke-width="2.3"/>
<polygon points="201.45,370.64 212.45,359.64 223.45,370.64 212.45,381.64" fill="#fff" stroke="#4f8a8c" stroke-width="2.3"/>
<polygon points="204.85,371.22 215.85,360.22 226.85,371.22 215.85,382.22" fill="#fff" stroke="#4f8a8c" stroke-width="2.3"/>
<polygon points="208.25,370.71 219.25,359.71 230.25,370.71 219.25,381.71" fill="#fff" stroke="#4f8a8c" stroke-width="2.3"/>
<polygon points="212.36,370.31 223.36,359.31 234.36,370.31 223.36,381.31" fill="#fff" stroke="#4f8a8c" stroke-width="2.3"/>
<polygon points="215.76,370.6 226.76,359.6 237.76,370.6 226.76,381.6" fill="#fff" stroke="#4f8a8c" stroke-width="2.3"/>
<polygon points="219.16,370.32 230.16,359.32 241.16,370.32 230.16,381.32" fill="#fff" stroke="#4f8a8c" stroke-width="2.3"/>
<polygon points="222.56,370.43 233.56,359.43 244.56,370.43 233.56,381.43" fill="#fff" stroke="#4f8a8c" stroke-width="2.3"/>
<polygon points="225.96,370.44 236.96,359.44 247.96,370.44 236.96,381.44" fill="#fff" stroke="#4f8a8c" stroke-width="2.3"/>
<polygon points="229.36,371.19 240.36,360.19 251.36,371.19 240.36,382.19" fill="#fff" stroke="#4f8a8c" stroke-width="2.3"/>
<polygon points="235,370.53 246,359.53 257,370.53 246,381.53" fill="#fff" stroke="#4f8a8c" stroke-width="2.3"/>
<polygon points="238.4,369.69 249.4,358.69 260.4,369.69 249.4,380.69" fill="#fff" stroke="#4f8a8c" stroke-width="2.3"/>
<polygon points="241.8,369.36 252.8,358.36 263.8,369.36 252.8,380.36" fill="#fff" stroke="#4f8a8c" stroke-width="2.3"/>
<polygon points="246.29,370.54 257.29,359.54 268.29,370.54 257.29,381.54" fill="#fff" stroke="#4f8a8c" stroke-width="2.3"/>
<polygon points="249.69,370.4 260.69,359.4 271.69,370.4 260.69,381.4" fill="#fff" stroke="#4f8a8c" stroke-width="2.3"/>
<polygon points="253.09,371.41 264.09,360.41 275.09,371.41 264.09,382.41" fill="#fff" stroke="#4f8a8c" stroke-width="2.3"/>
<polygon points="256.49,371.55 267.49,360.55 278.49,371.55 267.49,382.55" fill="#fff" stroke="#4f8a8c" stroke-width="2.3"/>
<polygon points="259.89,371.71 270.89,360.71 281.89,371.71 270.89,382.71" fill="#fff" stroke="#4f8a8c" stroke-width="2.3"/>
<polygon points="265.7,374.16 276.7,363.16 287.7,374.16 276.7,385.16" fill="#fff" stroke="#4f8a8c" stroke-width="2.3"/>
<polygon points="269.1,374.46 280.1,363.46 291.1,374.46 280.1,385.46" fill="#fff" stroke="#4f8a8c" stroke-width="2.3"/>
<polygon points="272.5,373.51 283.5,362.51 294.5,373.51 283.5,384.51" fill="#fff" stroke="#4f8a8c" stroke-width="2.3"/>
<polygon points="276.43,374.87 287.43,363.87 298.43,374.87 287.43,385.87" fill="#fff" stroke="#4f8a8c" stroke-width="2.3"/>
<polygon points="279.83,374.87 290.83,363.87 301.83,374.87 290.83,385.87" fill="#fff" stroke="#4f8a8c" stroke-width="2.3"/>
<polygon points="284.96,373.97 295.96,362.97 306.96,373.97 295.96,384.97" fill="#fff" stroke="#4f8a8c" stroke-width="2.3"/>
<polygon points="288.36,374.67 299.36,363.67 310.36,374.67 299.36,385.67" fill="#fff" stroke="#4f8a8c" stroke-width="2.3"/>
<polygon points="293.71,371.54 304.71,360.54 315.71,371.54 304.71,382.54" fill="#fff" stroke="#4f8a8c" stroke-width="2.3"/>
<polygon points="297.11,370.66 308.11,359.66 319.11,370.66 308.11,381.66" fill="#fff" stroke="#4f8a8c" stroke-width="2.3"/>
<polygon points="300.51,370.87 311.51,359.87 322.51,370.87 311.51,381.87" fill="#fff" stroke="#4f8a8c" stroke-width="2.3"/>
<polygon points="305.21,372.15 316.21,361.15 327.21,372.15 316.21,383.15" fill="#fff" stroke="#4f8a8c" stroke-width="2.3"/>
<polygon points="308.61,373.7 319.61,362.7 330.61,373.7 319.61,384.7" fill="#fff" stroke="#4f8a8c" stroke-width="2.3"/>
<polygon points="312.01,373.25 323.01,362.25 334.01,373.25 323.01,384.25" fill="#fff" stroke="#4f8a8c" stroke-width="2.3"/>
<polygon points="315.41,372.83 326.41,361.83 337.41,372.83 326.41,383.83" fill="#fff" stroke="#4f8a8c" stroke-width="2.3"/>
<polygon points="318.81,373.23 329.81,362.23 340.81,373.23 329.81,384.23" fill="#fff" stroke="#4f8a8c" stroke-width="2.3"/>
<polygon points="324.36,373.12 335.36,362.12 346.36,373.12 335.36,384.12" fill="#fff" stroke="#4f8a8c" stroke-width="2.3"/>
<polygon points="327.76,373.45 338.76,362.45 349.76,373.45 338.76,384.45" fill="#fff" stroke="#4f8a8c" stroke-width="2.3"/>
<polygon points="331.16,373.67 342.16,362.67 353.16,373.67 342.16,384.67" fill="#fff" stroke="#4f8a8c" stroke-width="2.3"/>
<polygon points="334.56,373.89 345.56,362.89 356.56,373.89 345.56,384.89" fill="#fff" stroke="#4f8a8c" stroke-width="2.3"/>
<polygon points="338.14,373.4 349.14,362.4 360.14,373.4 349.14,384.4" fill="#fff" stroke="#4f8a8c" stroke-width="2.3"/>
<polygon points="341.54,373.99 352.54,362.99 363.54,373.99 352.54,384.99" fill="#fff" stroke="#4f8a8c" stroke-width="2.3"/>
<polygon points="344.94,375.02 355.94,364.02 366.94,375.02 355.94,386.02" fill="#fff" stroke="#4f8a8c" stroke-width="2.3"/>
<polygon points="348.34,373.68 359.34,362.68 370.34,373.68 359.34,384.68" fill="#fff" stroke="#4f8a8c" stroke-width="2.3"/>
<polygon points="353.44,376.94 364.44,365.94 375.44,376.94 364.44,387.94" fill="#fff" stroke="#4f8a8c" stroke-width="2.3"/>
<polygon points="356.84,377.46 367.84,366.46 378.84,377.46 367.84,388.46" fill="#fff" stroke="#4f8a8c" stroke-width="2.3"/>
<polygon points="360.24,376.74 371.24,365.74 382.24,376.74 371.24,387.74" fill="#fff" stroke="#4f8a8c" stroke-width="2.3"/>
<polygon points="363.64,376.27 374.64,365.27 385.64,376.27 374.64,387.27" fill="#fff" stroke="#4f8a8c" stroke-width="2.3"/>
<polygon points="367.04,377.55 378.04,366.55 389.04,377.55 378.04,388.55" fill="#fff" stroke="#4f8a8c" stroke-width="2.3"/>
<polygon points="370.44,377.59 381.44,366.59 392.44,377.59 381.44,388.59" fill="#fff" stroke="#4f8a8c" stroke-width="2.3"/>
<polygon points="374.07,373.4 385.07,362.4 396.07,373.4 385.07,384.4" fill="#fff" stroke="#4f8a8c" stroke-width="2.3"/>
<polygon points="377.47,373.16 388.47,362.16 399.47,373.16 388.47,384.16" fill="#fff" stroke="#4f8a8c" stroke-width="2.3"/>
<polygon points="380.87,374.95 391.87,363.95 402.87,374.95 391.87,385.95" fill="#fff" stroke="#4f8a8c" stroke-width="2.3"/>
<polygon points="384.27,373.15 395.27,362.15 406.27,373.15 395.27,384.15" fill="#fff" stroke="#4f8a8c" stroke-width="2.3"/>
<polygon points="388.68,370.28 399.68,359.28 410.68,370.28 399.68,381.28" fill="#fff" stroke="#4f8a8c" stroke-width="2.3"/>
<polygon points="392.08,371.94 403.08,360.94 414.08,371.94 403.08,382.94" fill="#fff" stroke="#4f8a8c" stroke-width="2.3"/>
<polygon points="395.48,371.01 406.48,360.01 417.48,371.01 406.48,382.01" fill="#fff" stroke="#4f8a8c" stroke-width="2.3"/>
<polygon points="399.08,370.64 410.08,359.64 421.08,370.64 410.08,381.64" fill="#fff" stroke="#4f8a8c" stroke-width="2.3"/>
<polygon points="402.48,370.83 413.48,359.83 424.48,370.83 413.48,381.83" fill="#fff" stroke="#4f8a8c" stroke-width="2.3"/>
<polygon points="406.25,373.41 417.25,362.41 428.25,373.41 417.25,384.41" fill="#fff" stroke="#4f8a8c" stroke-width="2.3"/>
<polygon points="409.65,372.91 420.65,361.91 431.65,372.91 420.65,383.91" fill="#fff" stroke="#4f8a8c" stroke-width="2.3"/>
<polygon points="413.05,373.84 424.05,362.84 435.05,373.84 424.05,384.84" fill="#fff" stroke="#4f8a8c" stroke-width="2.3"/>
<polygon points="416.45,372.34 427.45,361.34 438.45,372.34 427.45,383.34" fill="#fff" stroke="#4f8a8c" stroke-width="2.3"/>
<polygon points="419.85,372.98 430.85,361.98 441.85,372.98 430.85,383.98" fill="#fff" stroke="#4f8a8c" stroke-width="2.3"/>
<polygon points="423.99,373.97 434.99,362.97 445.99,373.97 434.99,384.97" fill="#fff" stroke="#4f8a8c" stroke-width="2.3"/>
<polygon points="427.39,375.02 438.39,364.02 449.39,375.02 438.39,386.02" fill="#fff" stroke="#4f8a8c" stroke-width="2.3"/>
<polygon points="430.79,375.6 441.79,364.6 452.79,375.6 441.79,386.6" fill="#fff" stroke="#4f8a8c" stroke-width="2.3"/>
<polygon points="434.19,375.4 445.19,364.4 456.19,375.4 445.19,386.4" fill="#fff" stroke="#4f8a8c" stroke-width="2.3"/>
<polygon points="439.81,376.16 450.81,365.16 461.81,376.16 450.81,387.16" fill="#fff" stroke="#4f8a8c" stroke-width="2.3"/>
<polygon points="443.21,376.88 454.21,365.88 465.21,376.88 454.21,387.88" fill="#fff" stroke="#4f8a8c" stroke-width="2.3"/>
<polygon points="446.61,377.94 457.61,366.94 468.61,377.94 457.61,388.94" fill="#fff" stroke="#4f8a8c" stroke-width="2.3"/>
<polygon points="450.6,377.31 461.6,366.31 472.6,377.31 461.6,388.31" fill="#fff" stroke="#4f8a8c" stroke-width="2.3"/>
<polygon points="454,377.17 465,366.17 476,377.17 465,388.17" fill="#fff" stroke="#4f8a8c" stroke-width="2.3"/>
<polygon points="457.4,377.27 468.4,366.27 479.4,377.27 468.4,388.27" fill="#fff" stroke="#4f8a8c" stroke-width="2.3"/>
<polygon points="461.84,377.84 472.84,366.84 483.84,377.84 472.84,388.84" fill="#fff" stroke="#4f8a8c" stroke-width="2.3"/>
<polygon points="465.24,378.7 476.24,367.7 487.24,378.7 476.24,389.7" fill="#fff" stroke="#4f8a8c" stroke-width="2.3"/>
<polygon points="468.64,379.26 479.64,368.26 490.64,379.26 479.64,390.26" fill="#fff" stroke="#4f8a8c" stroke-width="2.3"/>
<polygon points="472.04,379.79 483.04,368.79 494.04,379.79 483.04,390.79" fill="#fff" stroke="#4f8a8c" stroke-width="2.3"/>
<polygon points="475.44,379.8 486.44,368.8 497.44,379.8 486.44,390.8" fill="#fff" stroke="#4f8a8c" stroke-width="2.3"/>
<polygon points="478.84,380.07 489.84,369.07 500.84,380.07 489.84,391.07" fill="#fff" stroke="#4f8a8c" stroke-width="2.3"/>
<polygon points="482.69,380.68 493.69,369.68 504.69,380.68 493.69,391.68" fill="#fff" stroke="#4f8a8c" stroke-width="2.3"/>
<polygon points="486.09,381.38 497.09,370.38 508.09,381.38 497.09,392.38" fill="#fff" stroke="#4f8a8c" stroke-width="2.3"/>
<polygon points="490.22,378.65 501.22,367.65 512.22,378.65 501.22,389.65" fill="#fff" stroke="#4f8a8c" stroke-width="2.3"/>
<polygon points="493.62,376.91 504.62,365.91 515.62,376.91 504.62,387.91" fill="#fff" stroke="#4f8a8c" stroke-width="2.3"/>
<polygon points="497.02,376.42 508.02,365.42 519.02,376.42 508.02,387.42" fill="#fff" stroke="#4f8a8c" stroke-width="2.3"/>
<polygon points="500.42,377.61 511.42,366.61 522.42,377.61 511.42,388.61" fill="#fff" stroke="#4f8a8c" stroke-width="2.3"/>
<polygon points="503.82,379.06 514.82,368.06 525.82,379.06 514.82,390.06" fill="#fff" stroke="#4f8a8c" stroke-width="2.3"/>
<polygon points="508.18,379.9 519.18,368.9 530.18,379.9 519.18,390.9" fill="#fff" stroke="#4f8a8c" stroke-width="2.3"/>
<polygon points="511.58,380.21 522.58,369.21 533.58,380.21 522.58,391.21" fill="#fff" stroke="#4f8a8c" stroke-width="2.3"/>
<polygon points="514.98,381.21 525.98,370.21 536.98,381.21 525.98,392.21" fill="#fff" stroke="#4f8a8c" stroke-width="2.3"/>
<polygon points="519.88,383.35 530.88,372.35 541.88,383.35 530.88,394.35" fill="#fff" stroke="#4f8a8c" stroke-width="2.3"/>
<polygon points="523.28,382.78 534.28,371.78 545.28,382.78 534.28,393.78" fill="#fff" stroke="#4f8a8c" stroke-width="2.3"/>
<polygon points="529.17,385.04 540.17,374.04 551.17,385.04 540.17,396.04" fill="#fff" stroke="#4f8a8c" stroke-width="2.3"/>
<polygon points="532.57,384.69 543.57,373.69 554.57,384.69 543.57,395.69" fill="#fff" stroke="#4f8a8c" stroke-width="2.3"/>
<polygon points="535.97,385.99 546.97,374.99 557.97,385.99 546.97,396.99" fill="#fff" stroke="#4f8a8c" stroke-width="2.3"/>
<polygon points="540.02,380.18 551.02,369.18 562.02,380.18 551.02,391.18" fill="#fff" stroke="#4f8a8c" stroke-width="2.3"/>
<polygon points="543.42,382.07 554.42,371.07 565.42,382.07 554.42,393.07" fill="#fff" stroke="#4f8a8c" stroke-width="2.3"/>
<polygon points="546.82,380.68 557.82,369.68 568.82,380.68 557.82,391.68" fill="#fff" stroke="#4f8a8c" stroke-width="2.3"/>
<polygon points="550.22,381.83 561.22,370.83 572.22,381.83 561.22,392.83" fill="#fff" stroke="#4f8a8c" stroke-width="2.3"/>
<polygon points="553.62,381.57 564.62,370.57 575.62,381.57 564.62,392.57" fill="#fff" stroke="#4f8a8c" stroke-width="2.3"/>
<polygon points="557.02,382.31 568.02,371.31 579.02,382.31 568.02,393.31" fill="#fff" stroke="#4f8a8c" stroke-width="2.3"/>
<polygon points="562.67,381.23 573.67,370.23 584.67,381.23 573.67,392.23" fill="#fff" stroke="#4f8a8c" stroke-width="2.3"/>
<polygon points="566.07,381.69 577.07,370.69 588.07,381.69 577.07,392.69" fill="#fff" stroke="#4f8a8c" stroke-width="2.3"/>
<polygon points="569.47,381.92 580.47,370.92 591.47,381.92 580.47,392.92" fill="#fff" stroke="#4f8a8c" stroke-width="2.3"/>
<polygon points="572.87,382.06 583.87,371.06 594.87,382.06 583.87,393.06" fill="#fff" stroke="#4f8a8c" stroke-width="2.3"/>
<polygon points="576.27,382.12 587.27,371.12 598.27,382.12 587.27,393.12" fill="#fff" stroke="#4f8a8c" stroke-width="2.3"/>
<polygon points="579.67,382.91 590.67,371.91 601.67,382.91 590.67,393.91" fill="#fff" stroke="#4f8a8c" stroke-width="2.3"/>
<polygon points="583.95,382.56 594.95,371.56 605.95,382.56 594.95,393.56" fill="#fff" stroke="#4f8a8c" stroke-width="2.3"/>
<polygon points="587.35,382.59 598.35,371.59 609.35,382.59 598.35,393.59" fill="#fff" stroke="#4f8a8c" stroke-width="2.3"/>
<polygon points="590.75,383.06 601.75,372.06 612.75,383.06 601.75,394.06" fill="#fff" stroke="#4f8a8c" stroke-width="2.3"/>
<polygon points="594.15,384.13 605.15,373.13 616.15,384.13 605.15,395.13" fill="#fff" stroke="#4f8a8c" stroke-width="2.3"/>
<polygon points="599.48,384.02 610.48,373.02 621.48,384.02 610.48,395.02" fill="#fff" stroke="#4f8a8c" stroke-width="2.3"/>
<polygon points="602.88,384.62 613.88,373.62 624.88,384.62 613.88,395.62" fill="#fff" stroke="#4f8a8c" stroke-width="2.3"/>
<polygon points="606.28,384.69 617.28,373.69 628.28,384.69 617.28,395.69" fill="#fff" stroke="#4f8a8c" stroke-width="2.3"/>
<polygon points="610.91,386.1 621.91,375.1 632.91,386.1 621.91,397.1" fill="#fff" stroke="#4f8a8c" stroke-width="2.3"/>
<polygon points="614.31,384.39 625.31,373.39 636.31,384.39 625.31,395.39" fill="#fff" stroke="#4f8a8c" stroke-width="2.3"/>
<polygon points="617.71,385.95 628.71,374.95 639.71,385.95 628.71,396.95" fill="#fff" stroke="#4f8a8c" stroke-width="2.3"/>
<polygon points="621.11,386.3 632.11,375.3 643.11,386.3 632.11,397.3" fill="#fff" stroke="#4f8a8c" stroke-width="2.3"/>
<polygon points="624.51,386.28 635.51,375.28 646.51,386.28 635.51,397.28" fill="#fff" stroke="#4f8a8c" stroke-width="2.3"/>
<polygon points="627.91,386.04 638.91,375.04 649.91,386.04 638.91,397.04" fill="#fff" stroke="#4f8a8c" stroke-width="2.3"/>
<polygon points="631.35,387.12 642.35,376.12 653.35,387.12 642.35,398.12" fill="#fff" stroke="#4f8a8c" stroke-width="2.3"/>
<polygon points="634.75,385.51 645.75,374.51 656.75,385.51 645.75,396.51" fill="#fff" stroke="#4f8a8c" stroke-width="2.3"/>
<polygon points="638.15,386.86 649.15,375.86 660.15,386.86 649.15,397.86" fill="#fff" stroke="#4f8a8c" stroke-width="2.3"/>
<polygon points="641.55,387.52 652.55,376.52 663.55,387.52 652.55,398.52" fill="#fff" stroke="#4f8a8c" stroke-width="2.3"/>
<polygon points="644.95,387.35 655.95,376.35 666.95,387.35 655.95,398.35" fill="#fff" stroke="#4f8a8c" stroke-width="2.3"/>
<polygon points="650.77,387.93 661.77,376.93 672.77,387.93 661.77,398.93" fill="#fff" stroke="#4f8a8c" stroke-width="2.3"/>
<polygon points="654.17,388.55 665.17,377.55 676.17,388.55 665.17,399.55" fill="#fff" stroke="#4f8a8c" stroke-width="2.3"/>
<polygon points="657.57,388.03 668.57,377.03 679.57,388.03 668.57,399.03" fill="#fff" stroke="#4f8a8c" stroke-width="2.3"/>
<polygon points="660.97,387.1 671.97,376.1 682.97,387.1 671.97,398.1" fill="#fff" stroke="#4f8a8c" stroke-width="2.3"/>
<polygon points="664.37,388.41 675.37,377.41 686.37,388.41 675.37,399.41" fill="#fff" stroke="#4f8a8c" stroke-width="2.3"/>
<polygon points="668.97,392.37 679.97,381.37 690.97,392.37 679.97,403.37" fill="#fff" stroke="#4f8a8c" stroke-width="2.3"/>
<polygon points="672.37,391.83 683.37,380.83 694.37,391.83 683.37,402.83" fill="#fff" stroke="#4f8a8c" stroke-width="2.3"/>
<polygon points="676.36,392.95 687.36,381.95 698.36,392.95 687.36,403.95" fill="#fff" stroke="#4f8a8c" stroke-width="2.3"/>
<polygon points="679.76,393.87 690.76,382.87 701.76,393.87 690.76,404.87" fill="#fff" stroke="#4f8a8c" stroke-width="2.3"/>
<polygon points="683.16,393.23 694.16,382.23 705.16,393.23 694.16,404.23" fill="#fff" stroke="#4f8a8c" stroke-width="2.3"/>
<polygon points="688.43,395.36 699.43,384.36 710.43,395.36 699.43,406.36" fill="#fff" stroke="#4f8a8c" stroke-width="2.3"/>
<polygon points="691.83,395 702.83,384 713.83,395 702.83,406" fill="#fff" stroke="#4f8a8c" stroke-width="2.3"/>
<polygon points="695.23,393.96 706.23,382.96 717.23,393.96 706.23,404.96" fill="#fff" stroke="#4f8a8c" stroke-width="2.3"/>
<polygon points="698.63,395.81 709.63,384.81 720.63,395.81 709.63,406.81" fill="#fff" stroke="#4f8a8c" stroke-width="2.3"/>
<polygon points="702.03,396.27 713.03,385.27 724.03,396.27 713.03,407.27" fill="#fff" stroke="#4f8a8c" stroke-width="2.3"/>
<polygon points="705.43,397.01 716.43,386.01 727.43,397.01 716.43,408.01" fill="#fff" stroke="#4f8a8c" stroke-width="2.3"/>
<polygon points="708.94,395.62 719.94,384.62 730.94,395.62 719.94,406.62" fill="#fff" stroke="#4f8a8c" stroke-width="2.3"/>
<polygon points="712.34,395.73 723.34,384.73 734.34,395.73 723.34,406.73" fill="#fff" stroke="#4f8a8c" stroke-width="2.3"/>
<polygon points="715.74,396.2 726.74,385.2 737.74,396.2 726.74,407.2" fill="#fff" stroke="#4f8a8c" stroke-width="2.3"/>
<polygon points="719.14,398.71 730.14,387.71 741.14,398.71 730.14,409.71" fill="#fff" stroke="#4f8a8c" stroke-width="2.3"/>
<polygon points="723.3,395.01 734.3,384.01 745.3,395.01 734.3,406.01" fill="#fff" stroke="#4f8a8c" stroke-width="2.3"/>
<polygon points="726.7,395.58 737.7,384.58 748.7,395.58 737.7,406.58" fill="#fff" stroke="#4f8a8c" stroke-width="2.3"/>
<polygon points="730.1,396.66 741.1,385.66 752.1,396.66 741.1,407.66" fill="#fff" stroke="#4f8a8c" stroke-width="2.3"/>
<polygon points="733.5,396.77 744.5,385.77 755.5,396.77 744.5,407.77" fill="#fff" stroke="#4f8a8c" stroke-width="2.3"/>
<polygon points="736.9,396.98 747.9,385.98 758.9,396.98 747.9,407.98" fill="#fff" stroke="#4f8a8c" stroke-width="2.3"/>
<polygon points="740.3,396.85 751.3,385.85 762.3,396.85 751.3,407.85" fill="#fff" stroke="#4f8a8c" stroke-width="2.3"/>
<polygon points="94,446.05 105,428.05 116,446.05" fill="#fff" stroke="#7f7f40" stroke-width="2.3"/>
<polygon points="97.4,445.81 108.4,427.81 119.4,445.81" fill="#fff" stroke="#7f7f40" stroke-width="2.3"/>
<polygon points="100.8,446.86 111.8,428.86 122.8,446.86" fill="#fff" stroke="#7f7f40" stroke-width="2.3"/>
<polygon points="104.2,446.6 115.2,428.6 126.2,446.6" fill="#fff" stroke="#7f7f40" stroke-width="2.3"/>
<polygon points="107.6,447.77 118.6,429.77 129.6,447.77" fill="#fff" stroke="#7f7f40" stroke-width="2.3"/>
<polygon points="111,447 122,429 133,447" fill="#fff" stroke="#7f7f40" stroke-width="2.3"/>
<polygon points="116.68,450.84 127.68,432.84 138.68,450.84" fill="#fff" stroke="#7f7f40" stroke-width="2.3"/>
<polygon points="120.08,450.68 131.08,432.68 142.08,450.68" fill="#fff" stroke="#7f7f40" stroke-width="2.3"/>
<polygon points="123.48,451.06 134.48,433.06 145.48,451.06" fill="#fff" stroke="#7f7f40" stroke-width="2.3"/>
<polygon points="126.88,451.96 137.88,433.96 148.88,451.96" fill="#fff" stroke="#7f7f40" stroke-width="2.3"/>
<polygon points="130.28,452.28 141.28,434.28 152.28,452.28" fill="#fff" stroke="#7f7f40" stroke-width="2.3"/>
<polygon points="133.68,451.88 144.68,433.88 155.68,451.88" fill="#fff" stroke="#7f7f40" stroke-width="2.3"/>
<polygon points="138.37,451.08 149.37,433.08 160.37,451.08" fill="#fff" stroke="#7f7f40" stroke-width="2.3"/>
<polygon points="141.77,453.51 152.77,435.51 163.77,453.51" fill="#fff" stroke="#7f7f40" stroke-width="2.3"/>
<polygon points="145.17,452.7 156.17,434.7 167.17,452.7" fill="#fff" stroke="#7f7f40" stroke-width="2.3"/>
<polygon points="148.57,453.97 159.57,435.97 170.57,453.97" fill="#fff" stroke="#7f7f40" stroke-width="2.3"/>
<polygon points="151.97,453.76 162.97,435.76 173.97,453.76" fill="#fff" stroke="#7f7f40" stroke-width="2.3"/>
<polygon points="155.37,455.02 166.37,437.02 177.37,455.02" fill="#fff" stroke="#7f7f40" stroke-width="2.3"/>
<polygon points="161.25,456.93 172.25,438.93 183.25,456.93" fill="#fff" stroke="#7f7f40" stroke-width="2.3"/>
<polygon points="164.65,455.82 175.65,437.82 186.65,455.82" fill="#fff" stroke="#7f7f40" stroke-width="2.3"/>
<polygon points="168.35,458.4 179.35,440.4 190.35,458.4" fill="#fff" stroke="#7f7f40" stroke-width="2.3"/>
<polygon points="171.75,458.25 182.75,440.25 193.75,458.25" fill="#fff" stroke="#7f7f40" stroke-width="2.3"/>
<polygon points="175.15,458.26 186.15,440.26 197.15,458.26" fill="#fff" stroke="#7f7f40" stroke-width="2.3"/>
<polygon points="178.55,458.35 189.55,440.35 200.55,458.35" fill="#fff" stroke="#7f7f40" stroke-width="2.3"/>
<polygon points="181.95,458.99 192.95,440.99 203.95,458.99" fill="#fff" stroke="#7f7f40" stroke-width="2.3"/>
<polygon points="185.53,460.95 196.53,442.95 207.53,460.95" fill="#fff" stroke="#7f7f40" stroke-width="2.3"/>
<polygon points="188.93,460.73 199.93,442.73 210.93,460.73" fill="#fff" stroke="#7f7f40" stroke-width="2.3"/>
<polygon points="192.33,462.25 203.33,444.25 214.33,462.25" fill="#fff" stroke="#7f7f40" stroke-width="2.3"/>
<polygon points="196.93,459.83 207.93,441.83 218.93,459.83" fill="#fff" stroke="#7f7f40" stroke-width="2.3"/>
<polygon points="200.33,460.08 211.33,442.08 222.33,460.08" fill="#fff" stroke="#7f7f40" stroke-width="2.3"/>
<polygon points="203.73,461.35 214.73,443.35 225.73,461.35" fill="#fff" stroke="#7f7f40" stroke-width="2.3"/>
<polygon points="207.13,461.42 218.13,443.42 229.13,461.42" fill="#fff" stroke="#7f7f40" stroke-width="2.3"/>
<polygon points="210.53,461.94 221.53,443.94 232.53,461.94" fill="#fff" stroke="#7f7f40" stroke-width="2.3"/>
<polygon points="215.56,461.68 226.56,443.68 237.56,461.68" fill="#fff" stroke="#7f7f40" stroke-width="2.3"/>
<polygon points="218.96,462.6 229.96,444.6 240.96,462.6" fill="#fff" stroke="#7f7f40" stroke-width="2.3"/>
<polygon points="222.37,463.17 233.37,445.17 244.37,463.17" fill="#fff" stroke="#7f7f40" stroke-width="2.3"/>
<polygon points="225.77,463.35 236.77,445.35 247.77,463.35" fill="#fff" stroke="#7f7f40" stroke-width="2.3"/>
<polygon points="229.17,463.87 240.17,445.87 251.17,463.87" fill="#fff" stroke="#7f7f40" stroke-width="2.3"/>
<polygon points="232.57,463.95 243.57,445.95 254.57,463.95" fill="#fff" stroke="#7f7f40" stroke-width="2.3"/>
<polygon points="235.97,465.12 246.97,447.12 257.97,465.12" fill="#fff" stroke="#7f7f40" stroke-width="2.3"/>
<polygon points="239.83,464.13 250.83,446.13 261.83,464.13" fill="#fff" stroke="#7f7f40" stroke-width="2.3"/>
<polygon points="243.23,465.26 254.23,447.26 265.23,465.26" fill="#fff" stroke="#7f7f40" stroke-width="2.3"/>
<polygon points="246.63,464.92 257.63,446.92 268.63,464.92" fill="#fff" stroke="#7f7f40" stroke-width="2.3"/>
<polygon points="250.03,465.32 261.03,447.32 272.03,465.32" fill="#fff" stroke="#7f7f40" stroke-width="2.3"/>
<polygon points="254.59,466.13 265.59,448.13 276.59,466.13" fill="#fff" stroke="#7f7f40" stroke-width="2.3"/>
<polygon points="257.99,467.58 268.99,449.58 279.99,467.58" fill="#fff" stroke="#7f7f40" stroke-width="2.3"/>
<polygon points="261.39,467.92 272.39,449.92 283.39,467.92" fill="#fff" stroke="#7f7f40" stroke-width="2.3"/>
<polygon points="264.79,468.26 275.79,450.26 286.79,468.26" fill="#fff" stroke="#7f7f40" stroke-width="2.3"/>
<polygon points="269.57,472.39 280.57,454.39 291.57,472.39" fill="#fff" stroke="#7f7f40" stroke-width="2.3"/>
<polygon points="272.97,472.55 283.97,454.55 294.97,472.55" fill="#fff" stroke="#7f7f40" stroke-width="2.3"/>
<polygon points="276.37,473.84 287.37,455.84 298.37,473.84" fill="#fff" stroke="#7f7f40" stroke-width="2.3"/>
<polygon points="281.04,471.55 292.04,453.55 303.04,471.55" fill="#fff" stroke="#7f7f40" stroke-width="2.3"/>
<polygon points="284.44,472.24 295.44,454.24 306.44,472.24" fill="#fff" stroke="#7f7f40" stroke-width="2.3"/>
<polygon points="289.66,470.25 300.66,452.25 311.66,470.25" fill="#fff" stroke="#7f7f40" stroke-width="2.3"/>
<polygon points="293.06,470.54 304.06,452.54 315.06,470.54" fill="#fff" stroke="#7f7f40" stroke-width="2.3"/>
<polygon points="296.46,470.16 307.46,452.16 318.46,470.16" fill="#fff" stroke="#7f7f40" stroke-width="2.3"/>
<polygon points="299.86,470.29 310.86,452.29 321.86,470.29" fill="#fff" stroke="#7f7f40" stroke-width="2.3"/>
<polygon points="305.17,472.91 316.17,454.91 327.17,472.91" fill="#fff" stroke="#7f7f40" stroke-width="2.3"/>
<polygon points="308.57,472.45 319.57,454.45 330.57,472.45" fill="#fff" stroke="#7f7f40" stroke-width="2.3"/>
<polygon points="311.97,473.51 322.97,455.51 333.97,473.51" fill="#fff" stroke="#7f7f40" stroke-width="2.3"/>
<polygon points="315.37,473.12 326.37,455.12 337.37,473.12" fill="#fff" stroke="#7f7f40" stroke-width="2.3"/>
<polygon points="318.77,473.93 329.77,455.93 340.77,473.93" fill="#fff" stroke="#7f7f40" stroke-width="2.3"/>
<polygon points="323.62,472.65 334.62,454.65 345.62,472.65" fill="#fff" stroke="#7f7f40" stroke-width="2.3"/>
<polygon points="327.02,473.21 338.02,455.21 349.02,473.21" fill="#fff" stroke="#7f7f40" stroke-width="2.3"/>
<polygon points="330.42,473.93 341.42,455.93 352.42,473.93" fill="#fff" stroke="#7f7f40" stroke-width="2.3"/>
<polygon points="333.82,475.15 344.82,457.15 355.82,475.15" fill="#fff" stroke="#7f7f40" stroke-width="2.3"/>
<polygon points="339.62,475.38 350.62,457.38 361.62,475.38" fill="#fff" stroke="#7f7f40" stroke-width="2.3"/>
<polygon points="343.02,475.82 354.02,457.82 365.02,475.82" fill="#fff" stroke="#7f7f40" stroke-width="2.3"/>
<polygon points="346.42,478.05 357.42,460.05 368.42,478.05" fill="#fff" stroke="#7f7f40" stroke-width="2.3"/>
<polygon points="349.82,476.66 360.82,458.66 371.82,476.66" fill="#fff" stroke="#7f7f40" stroke-width="2.3"/>
<polygon points="355.45,478.38 366.45,460.38 377.45,478.38" fill="#fff" stroke="#7f7f40" stroke-width="2.3"/>
<polygon points="358.85,478.55 369.85,460.55 380.85,478.55" fill="#fff" stroke="#7f7f40" stroke-width="2.3"/>
<polygon points="362.25,478.88 373.25,460.88 384.25,478.88" fill="#fff" stroke="#7f7f40" stroke-width="2.3"/>
<polygon points="365.65,479.23 376.65,461.23 387.65,479.23" fill="#fff" stroke="#7f7f40" stroke-width="2.3"/>
<polygon points="369.05,480.43 380.05,462.43 391.05,480.43" fill="#fff" stroke="#7f7f40" stroke-width="2.3"/>
<polygon points="374.83,480.55 385.83,462.55 396.83,480.55" fill="#fff" stroke="#7f7f40" stroke-width="2.3"/>
<polygon points="378.23,480.05 389.23,462.05 400.23,480.05" fill="#fff" stroke="#7f7f40" stroke-width="2.3"/>
<polygon points="381.63,480.09 392.63,462.09 403.63,480.09" fill="#fff" stroke="#7f7f40" stroke-width="2.3"/>
<polygon points="385.03,480.94 396.03,462.94 407.03,480.94" fill="#fff" stroke="#7f7f40" stroke-width="2.3"/>
<polygon points="388.43,483.17 399.43,465.17 410.43,483.17" fill="#fff" stroke="#7f7f40" stroke-width="2.3"/>
<polygon points="392.49,485.39 403.49,467.39 414.49,485.39" fill="#fff" stroke="#7f7f40" stroke-width="2.3"/>
<polygon points="395.89,485.59 406.89,467.59 417.89,485.59" fill="#fff" stroke="#7f7f40" stroke-width="2.3"/>
<polygon points="399.29,485.67 410.29,467.67 421.29,485.67" fill="#fff" stroke="#7f7f40" stroke-width="2.3"/>
<polygon points="402.69,486.37 413.69,468.37 424.69,486.37" fill="#fff" stroke="#7f7f40" stroke-width="2.3"/>
<polygon points="406.8,492.39 417.8,474.39 428.8,492.39" fill="#fff" stroke="#7f7f40" stroke-width="2.3"/>
<polygon points="410.2,492.4 421.2,474.4 432.2,492.4" fill="#fff" stroke="#7f7f40" stroke-width="2.3"/>
<polygon points="413.6,492.7 424.6,474.7 435.6,492.7" fill="#fff" stroke="#7f7f40" stroke-width="2.3"/>
<polygon points="417.73,493.33 428.73,475.33 439.73,493.33" fill="#fff" stroke="#7f7f40" stroke-width="2.3"/>
<polygon points="421.13,494.22 432.13,476.22 443.13,494.22" fill="#fff" stroke="#7f7f40" stroke-width="2.3"/>
<polygon points="424.53,493.6 435.53,475.6 446.53,493.6" fill="#fff" stroke="#7f7f40" stroke-width="2.3"/>
<polygon points="427.93,495.16 438.93,477.16 449.93,495.16" fill="#fff" stroke="#7f7f40" stroke-width="2.3"/>
<polygon points="431.56,495.24 442.56,477.24 453.56,495.24" fill="#fff" stroke="#7f7f40" stroke-width="2.3"/>
<polygon points="434.96,496.39 445.96,478.39 456.96,496.39" fill="#fff" stroke="#7f7f40" stroke-width="2.3"/>
<polygon points="438.36,496.87 449.36,478.87 460.36,496.87" fill="#fff" stroke="#7f7f40" stroke-width="2.3"/>
<polygon points="441.76,496.77 452.76,478.77 463.76,496.77" fill="#fff" stroke="#7f7f40" stroke-width="2.3"/>
<polygon points="446.79,496.48 457.79,478.48 468.79,496.48" fill="#fff" stroke="#7f7f40" stroke-width="2.3"/>
<polygon points="450.19,496.6 461.19,478.6 472.19,496.6" fill="#fff" stroke="#7f7f40" stroke-width="2.3"/>
<polygon points="454.66,494.96 465.66,476.96 476.66,494.96" fill="#fff" stroke="#7f7f40" stroke-width="2.3"/>
<polygon points="458.06,497.29 469.06,479.29 480.06,497.29" fill="#fff" stroke="#7f7f40" stroke-width="2.3"/>
<polygon points="461.46,496.54 472.46,478.54 483.46,496.54" fill="#fff" stroke="#7f7f40" stroke-width="2.3"/>
<polygon points="464.86,496.62 475.86,478.62 486.86,496.62" fill="#fff" stroke="#7f7f40" stroke-width="2.3"/>
<polygon points="468.26,498.58 479.26,480.58 490.26,498.58" fill="#fff" stroke="#7f7f40" stroke-width="2.3"/>
<polygon points="472.72,492.34 483.72,474.34 494.72,492.34" fill="#fff" stroke="#7f7f40" stroke-width="2.3"/>
<polygon points="476.12,493.09 487.12,475.09 498.12,493.09" fill="#fff" stroke="#7f7f40" stroke-width="2.3"/>
<polygon points="479.52,494.67 490.52,476.67 501.52,494.67" fill="#fff" stroke="#7f7f40" stroke-width="2.3"/>
<polygon points="482.92,495.62 493.92,477.62 504.92,495.62" fill="#fff" stroke="#7f7f40" stroke-width="2.3"/>
<polygon points="486.32,494.25 497.32,476.25 508.32,494.25" fill="#fff" stroke="#7f7f40" stroke-width="2.3"/>
<polygon points="489.72,496.75 500.72,478.75 511.72,496.75" fill="#fff" stroke="#7f7f40" stroke-width="2.3"/>
<polygon points="494.02,499.44 505.02,481.44 516.02,499.44" fill="#fff" stroke="#7f7f40" stroke-width="2.3"/>
<polygon points="497.42,499.7 508.42,481.7 519.42,499.7" fill="#fff" stroke="#7f7f40" stroke-width="2.3"/>
<polygon points="500.82,500.33 511.82,482.33 522.82,500.33" fill="#fff" stroke="#7f7f40" stroke-width="2.3"/>
<polygon points="504.22,500.06 515.22,482.06 526.22,500.06" fill="#fff" stroke="#7f7f40" stroke-width="2.3"/>
<polygon points="507.62,501.44 518.62,483.44 529.62,501.44" fill="#fff" stroke="#7f7f40" stroke-width="2.3"/>
<polygon points="511.86,505.75 522.86,487.75 533.86,505.75" fill="#fff" stroke="#7f7f40" stroke-width="2.3"/>
<polygon points="515.26,505.36 526.26,487.36 537.26,505.36" fill="#fff" stroke="#7f7f40" stroke-width="2.3"/>
<polygon points="518.66,505.68 529.66,487.68 540.66,505.68" fill="#fff" stroke="#7f7f40" stroke-width="2.3"/>
<polygon points="522.06,506.77 533.06,488.77 544.06,506.77" fill="#fff" stroke="#7f7f40" stroke-width="2.3"/>
<polygon points="525.46,506.45 536.46,488.45 547.46,506.45" fill="#fff" stroke="#7f7f40" stroke-width="2.3"/>
<polygon points="528.86,506.06 539.86,488.06 550.86,506.06" fill="#fff" stroke="#7f7f40" stroke-width="2.3"/>
<polygon points="533.79,508.86 544.79,490.86 555.79,508.86" fill="#fff" stroke="#7f7f40" stroke-width="2.3"/>
<polygon points="537.19,508.68 548.19,490.68 559.19,508.68" fill="#fff" stroke="#7f7f40" stroke-width="2.3"/>
<polygon points="540.59,509.62 551.59,491.62 562.59,509.62" fill="#fff" stroke="#7f7f40" stroke-width="2.3"/>
<polygon points="543.99,511.08 554.99,493.08 565.99,511.08" fill="#fff" stroke="#7f7f40" stroke-width="2.3"/>
<polygon points="548.11,507.93 559.11,489.93 570.11,507.93" fill="#fff" stroke="#7f7f40" stroke-width="2.3"/>
<polygon points="551.51,509.55 562.51,491.55 573.51,509.55" fill="#fff" stroke="#7f7f40" stroke-width="2.3"/>
<polygon points="554.91,508.61 565.91,490.61 576.91,508.61" fill="#fff" stroke="#7f7f40" stroke-width="2.3"/>
<polygon points="558.31,508.25 569.31,490.25 580.31,508.25" fill="#fff" stroke="#7f7f40" stroke-width="2.3"/>
<polygon points="562.01,512.24 573.01,494.24 584.01,512.24" fill="#fff" stroke="#7f7f40" stroke-width="2.3"/>
<polygon points="565.41,512.28 576.41,494.28 587.41,512.28" fill="#fff" stroke="#7f7f40" stroke-width="2.3"/>
<polygon points="568.81,512.5 579.81,494.5 590.81,512.5" fill="#fff" stroke="#7f7f40" stroke-width="2.3"/>
<polygon points="572.21,513.75 583.21,495.75 594.21,513.75" fill="#fff" stroke="#7f7f40" stroke-width="2.3"/>
<polygon points="576.58,513.13 587.58,495.13 598.58,513.13" fill="#fff" stroke="#7f7f40" stroke-width="2.3"/>
<polygon points="579.98,513.36 590.98,495.36 601.98,513.36" fill="#fff" stroke="#7f7f40" stroke-width="2.3"/>
<polygon points="583.38,515.45 594.38,497.45 605.38,515.45" fill="#fff" stroke="#7f7f40" stroke-width="2.3"/>
<polygon points="586.78,513.49 597.78,495.49 608.78,513.49" fill="#fff" stroke="#7f7f40" stroke-width="2.3"/>
<polygon points="590.18,515.53 601.18,497.53 612.18,515.53" fill="#fff" stroke="#7f7f40" stroke-width="2.3"/>
<polygon points="593.58,515.39 604.58,497.39 615.58,515.39" fill="#fff" stroke="#7f7f40" stroke-width="2.3"/>
<polygon points="598.4,517.94 609.4,499.94 620.4,517.94" fill="#fff" stroke="#7f7f40" stroke-width="2.3"/>
<polygon points="601.8,518.29 612.8,500.29 623.8,518.29" fill="#fff" stroke="#7f7f40" stroke-width="2.3"/>
<polygon points="605.2,519.31 616.2,501.31 627.2,519.31" fill="#fff" stroke="#7f7f40" stroke-width="2.3"/>
<polygon points="608.6,518.43 619.6,500.43 630.6,518.43" fill="#fff" stroke="#7f7f40" stroke-width="2.3"/>
<polygon points="612.51,519.63 623.51,501.63 634.51,519.63" fill="#fff" stroke="#7f7f40" stroke-width="2.3"/>
<polygon points="615.91,520.89 626.91,502.89 637.91,520.89" fill="#fff" stroke="#7f7f40" stroke-width="2.3"/>
<polygon points="619.31,521.18 630.31,503.18 641.31,521.18" fill="#fff" stroke="#7f7f40" stroke-width="2.3"/>
<polygon points="622.71,522.24 633.71,504.24 644.71,522.24" fill="#fff" stroke="#7f7f40" stroke-width="2.3"/>
<polygon points="627.95,522.94 638.95,504.94 649.95,522.94" fill="#fff" stroke="#7f7f40" stroke-width="2.3"/>
<polygon points="631.35,524.06 642.35,506.06 653.35,524.06" fill="#fff" stroke="#7f7f40" stroke-width="2.3"/>
<polygon points="634.75,525.75 645.75,507.75 656.75,525.75" fill="#fff" stroke="#7f7f40" stroke-width="2.3"/>
<polygon points="638.15,525.8 649.15,507.8 660.15,525.8" fill="#fff" stroke="#7f7f40" stroke-width="2.3"/>
<polygon points="641.55,525.25 652.55,507.25 663.55,525.25" fill="#fff" stroke="#7f7f40" stroke-width="2.3"/>
<polygon points="645.01,526.92 656.01,508.92 667.01,526.92" fill="#fff" stroke="#7f7f40" stroke-width="2.3"/>
<polygon points="648.41,527.37 659.41,509.37 670.41,527.37" fill="#fff" stroke="#7f7f40" stroke-width="2.3"/>
<polygon points="651.81,528.07 662.81,510.07 673.81,528.07" fill="#fff" stroke="#7f7f40" stroke-width="2.3"/>
<polygon points="655.21,527.64 666.21,509.64 677.21,527.64" fill="#fff" stroke="#7f7f40" stroke-width="2.3"/>
<polygon points="658.61,529.17 669.61,511.17 680.61,529.17" fill="#fff" stroke="#7f7f40" stroke-width="2.3"/>
<polygon points="662.23,529.08 673.23,511.08 684.23,529.08" fill="#fff" stroke="#7f7f40" stroke-width="2.3"/>
<polygon points="665.63,530.53 676.63,512.53 687.63,530.53" fill="#fff" stroke="#7f7f40" stroke-width="2.3"/>
<polygon points="669.03,530.93 680.03,512.93 691.03,530.93" fill="#fff" stroke="#7f7f40" stroke-width="2.3"/>
<polygon points="672.43,531.25 683.43,513.25 694.43,531.25" fill="#fff" stroke="#7f7f40" stroke-width="2.3"/>
<polygon points="677.5,530.63 688.5,512.63 699.5,530.63" fill="#fff" stroke="#7f7f40" stroke-width="2.3"/>
<polygon points="680.9,531.4 691.9,513.4 702.9,531.4" fill="#fff" stroke="#7f7f40" stroke-width="2.3"/>
<polygon points="686.19,527.75 697.19,509.75 708.19,527.75" fill="#fff" stroke="#7f7f40" stroke-width="2.3"/>
<polygon points="689.59,527.28 700.59,509.28 711.59,527.28" fill="#fff" stroke="#7f7f40" stroke-width="2.3"/>
<polygon points="692.99,528.73 703.99,510.73 714.99,528.73" fill="#fff" stroke="#7f7f40" stroke-width="2.3"/>
<polygon points="696.39,529.74 707.39,511.74 718.39,529.74" fill="#fff" stroke="#7f7f40" stroke-width="2.3"/>
<polygon points="699.79,530.15 710.79,512.15 721.79,530.15" fill="#fff" stroke="#7f7f40" stroke-width="2.3"/>
<polygon points="703.19,531.28 714.19,513.28 725.19,531.28" fill="#fff" stroke="#7f7f40" stroke-width="2.3"/>
<polygon points="707.68,527.5 718.68,509.5 729.68,527.5" fill="#fff" stroke="#7f7f40" stroke-width="2.3"/>
<polygon points="711.08,529.66 722.08,511.66 733.08,529.66" fill="#fff" stroke="#7f7f40" stroke-width="2.3"/>
<polygon points="714.48,530.22 725.48,512.22 736.48,530.22" fill="#fff" stroke="#7f7f40" stroke-width="2.3"/>
<polygon points="719.15,535.15 730.15,517.15 741.15,535.15" fill="#fff" stroke="#7f7f40" stroke-width="2.3"/>
<polygon points="722.55,537.15 733.55,519.15 744.55,537.15" fill="#fff" stroke="#7f7f40" stroke-width="2.3"/>
<polygon points="726.93,537.5 737.93,519.5 748.93,537.5" fill="#fff" stroke="#7f7f40" stroke-width="2.3"/>
<polygon points="730.33,538.51 741.33,520.51 752.33,538.51" fill="#fff" stroke="#7f7f40" stroke-width="2.3"/>
<polygon points="733.73,539.96 744.73,521.96 755.73,539.96" fill="#fff" stroke="#7f7f40" stroke-width="2.3"/>
<polygon points="737.85,544.33 748.85,526.33 759.85,544.33" fill="#fff" stroke="#7f7f40" stroke-width="2.3"/>
<polygon points="741.25,544.95 752.25,526.95 763.25,544.95" fill="#fff" stroke="#7f7f40" stroke-width="2.3"/>
<polygon points="498,512 509,494 520,512" fill="#fff" stroke="#7f7f40" stroke-width="2.3"/>
<polygon points="105,520.55 95.04,526.3 95.04,537.8 105,543.55 114.96,537.8 114.96,526.3" fill="#fff" stroke="#d6363a" stroke-width="2.3"/>
<polygon points="108.4,519.2 98.44,524.95 98.44,536.45 108.4,542.2 118.36,536.45 118.36,524.95" fill="#fff" stroke="#d6363a" stroke-width="2.3"/>
<polygon points="113.4,522.97 103.44,528.72 103.44,540.22 113.4,545.97 123.36,540.22 123.36,528.72" fill="#fff" stroke="#d6363a" stroke-width="2.3"/>
<polygon points="116.8,522.72 106.84,528.47 106.84,539.97 116.8,545.72 126.76,539.97 126.76,528.47" fill="#fff" stroke="#d6363a" stroke-width="2.3"/>
<polygon points="120.2,522.48 110.24,528.23 110.24,539.73 120.2,545.48 130.16,539.73 130.16,528.23" fill="#fff" stroke="#d6363a" stroke-width="2.3"/>
<polygon points="123.6,520.8 113.64,526.55 113.64,538.05 123.6,543.8 133.56,538.05 133.56,526.55" fill="#fff" stroke="#d6363a" stroke-width="2.3"/>
<polygon points="127,522.38 117.04,528.13 117.04,539.63 127,545.38 136.96,539.63 136.96,528.13" fill="#fff" stroke="#d6363a" stroke-width="2.3"/>
<polygon points="130.4,519.72 120.44,525.47 120.44,536.97 130.4,542.72 140.36,536.97 140.36,525.47" fill="#fff" stroke="#d6363a" stroke-width="2.3"/>
<polygon points="135.42,518.87 125.46,524.62 125.46,536.12 135.42,541.87 145.38,536.12 145.38,524.62" fill="#fff" stroke="#d6363a" stroke-width="2.3"/>
<polygon points="138.82,517.95 128.86,523.7 128.86,535.2 138.82,540.95 148.78,535.2 148.78,523.7" fill="#fff" stroke="#d6363a" stroke-width="2.3"/>
<polygon points="142.22,517.92 132.26,523.67 132.26,535.17 142.22,540.92 152.18,535.17 152.18,523.67" fill="#fff" stroke="#d6363a" stroke-width="2.3"/>
<polygon points="145.62,515.9 135.66,521.65 135.66,533.15 145.62,538.9 155.58,533.15 155.58,521.65" fill="#fff" stroke="#d6363a" stroke-width="2.3"/>
<polygon points="149.02,516.24 139.06,521.99 139.06,533.49 149.02,539.24 158.98,533.49 158.98,521.99" fill="#fff" stroke="#d6363a" stroke-width="2.3"/>
<polygon points="153.58,515.92 143.62,521.67 143.62,533.17 153.58,538.92 163.54,533.17 163.54,521.67" fill="#fff" stroke="#d6363a" stroke-width="2.3"/>
<polygon points="156.98,515.74 147.02,521.49 147.02,532.99 156.98,538.74 166.94,532.99 166.94,521.49" fill="#fff" stroke="#d6363a" stroke-width="2.3"/>
<polygon points="160.38,515.22 150.42,520.97 150.42,532.47 160.38,538.22 170.34,532.47 170.34,520.97" fill="#fff" stroke="#d6363a" stroke-width="2.3"/>
<polygon points="163.78,514.52 153.82,520.27 153.82,531.77 163.78,537.52 173.74,531.77 173.74,520.27" fill="#fff" stroke="#d6363a" stroke-width="2.3"/>
<polygon points="167.18,514.23 157.22,519.98 157.22,531.48 167.18,537.23 177.14,531.48 177.14,519.98" fill="#fff" stroke="#d6363a" stroke-width="2.3"/>
<polygon points="172.76,512.05 162.8,517.8 162.8,529.3 172.76,535.05 182.72,529.3 182.72,517.8" fill="#fff" stroke="#d6363a" stroke-width="2.3"/>
<polygon points="176.16,511.02 166.2,516.77 166.2,528.27 176.16,534.02 186.12,528.27 186.12,516.77" fill="#fff" stroke="#d6363a" stroke-width="2.3"/>
<polygon points="179.56,509.89 169.6,515.64 169.6,527.14 179.56,532.89 189.52,527.14 189.52,515.64" fill="#fff" stroke="#d6363a" stroke-width="2.3"/>
<polygon points="184.86,508.83 174.9,514.58 174.9,526.08 184.86,531.83 194.81,526.08 194.81,514.58" fill="#fff" stroke="#d6363a" stroke-width="2.3"/>
<polygon points="188.26,507.65 178.3,513.4 178.3,524.9 188.26,530.65 198.21,524.9 198.21,513.4" fill="#fff" stroke="#d6363a" stroke-width="2.3"/>
<polygon points="192.07,510.5 182.11,516.25 182.11,527.75 192.07,533.5 202.03,527.75 202.03,516.25" fill="#fff" stroke="#d6363a" stroke-width="2.3"/>
<polygon points="195.47,510.95 185.51,516.7 185.51,528.2 195.47,533.95 205.43,528.2 205.43,516.7" fill="#fff" stroke="#d6363a" stroke-width="2.3"/>
<polygon points="199.29,507.25 189.33,513 189.33,524.5 199.29,530.25 209.25,524.5 209.25,513" fill="#fff" stroke="#d6363a" stroke-width="2.3"/>
<polygon points="202.69,506.18 192.73,511.93 192.73,523.43 202.69,529.18 212.65,523.43 212.65,511.93" fill="#fff" stroke="#d6363a" stroke-width="2.3"/>
<polygon points="206.09,506.2 196.13,511.95 196.13,523.45 206.09,529.2 216.05,523.45 216.05,511.95" fill="#fff" stroke="#d6363a" stroke-width="2.3"/>
<polygon points="209.49,506.27 199.53,512.02 199.53,523.52 209.49,529.27 219.45,523.52 219.45,512.02" fill="#fff" stroke="#d6363a" stroke-width="2.3"/>
<polygon points="212.89,505.27 202.93,511.02 202.93,522.52 212.89,528.27 222.85,522.52 222.85,511.02" fill="#fff" stroke="#d6363a" stroke-width="2.3"/>
<polygon points="216.29,504.95 206.33,510.7 206.33,522.2 216.29,527.95 226.25,522.2 226.25,510.7" fill="#fff" stroke="#d6363a" stroke-width="2.3"/>
<polygon points="221.8,505.08 211.84,510.83 211.84,522.33 221.8,528.08 231.76,522.33 231.76,510.83" fill="#fff" stroke="#d6363a" stroke-width="2.3"/>
<polygon points="225.2,503.51 215.24,509.26 215.24,520.76 225.2,526.51 235.16,520.76 235.16,509.26" fill="#fff" stroke="#d6363a" stroke-width="2.3"/>
<polygon points="230.56,502.82 220.6,508.57 220.6,520.07 230.56,525.82 240.52,520.07 240.52,508.57" fill="#fff" stroke="#d6363a" stroke-width="2.3"/>
<polygon points="233.96,502.56 224,508.31 224,519.81 233.96,525.56 243.92,519.81 243.92,508.31" fill="#fff" stroke="#d6363a" stroke-width="2.3"/>
<polygon points="237.36,502.91 227.4,508.66 227.4,520.16 237.36,525.91 247.32,520.16 247.32,508.66" fill="#fff" stroke="#d6363a" stroke-width="2.3"/>
<polygon points="240.76,501.38 230.8,507.13 230.8,518.63 240.76,524.38 250.72,518.63 250.72,507.13" fill="#fff" stroke="#d6363a" stroke-width="2.3"/>
<polygon points="245.61,501.35 235.65,507.1 235.65,518.6 245.61,524.35 255.57,518.6 255.57,507.1" fill="#fff" stroke="#d6363a" stroke-width="2.3"/>
<polygon points="249.01,501.01 239.05,506.76 239.05,518.26 249.01,524.01 258.97,518.26 258.97,506.76" fill="#fff" stroke="#d6363a" stroke-width="2.3"/>
<polygon points="252.41,500.16 242.45,505.91 242.45,517.41 252.41,523.16 262.37,517.41 262.37,505.91" fill="#fff" stroke="#d6363a" stroke-width="2.3"/>
<polygon points="255.81,499.53 245.85,505.28 245.85,516.78 255.81,522.53 265.77,516.78 265.77,505.28" fill="#fff" stroke="#d6363a" stroke-width="2.3"/>
<polygon points="259.21,499.02 249.25,504.77 249.25,516.27 259.21,522.02 269.17,516.27 269.17,504.77" fill="#fff" stroke="#d6363a" stroke-width="2.3"/>
<polygon points="262.61,498.98 252.65,504.73 252.65,516.23 262.61,521.98 272.57,516.23 272.57,504.73" fill="#fff" stroke="#d6363a" stroke-width="2.3"/>
<polygon points="266.15,496.97 256.19,502.72 256.19,514.22 266.15,519.97 276.11,514.22 276.11,502.72" fill="#fff" stroke="#d6363a" stroke-width="2.3"/>
<polygon points="269.55,496.33 259.59,502.08 259.59,513.58 269.55,519.33 279.51,513.58 279.51,502.08" fill="#fff" stroke="#d6363a" stroke-width="2.3"/>
<polygon points="272.95,495.16 262.99,500.91 262.99,512.41 272.95,518.16 282.91,512.41 282.91,500.91" fill="#fff" stroke="#d6363a" stroke-width="2.3"/>
<polygon points="276.35,495.52 266.39,501.27 266.39,512.77 276.35,518.52 286.31,512.77 286.31,501.27" fill="#fff" stroke="#d6363a" stroke-width="2.3"/>
<polygon points="279.75,495.34 269.79,501.09 269.79,512.59 279.75,518.34 289.71,512.59 289.71,501.09" fill="#fff" stroke="#d6363a" stroke-width="2.3"/>
<polygon points="283.15,493.77 273.19,499.52 273.19,511.02 283.15,516.77 293.11,511.02 293.11,499.52" fill="#fff" stroke="#d6363a" stroke-width="2.3"/>
<polygon points="287.98,496.29 278.02,502.04 278.02,513.54 287.98,519.29 297.94,513.54 297.94,502.04" fill="#fff" stroke="#d6363a" stroke-width="2.3"/>
<polygon points="291.38,494.78 281.42,500.53 281.42,512.03 291.38,517.78 301.34,512.03 301.34,500.53" fill="#fff" stroke="#d6363a" stroke-width="2.3"/>
<polygon points="294.78,493.27 284.82,499.02 284.82,510.52 294.78,516.27 304.74,510.52 304.74,499.02" fill="#fff" stroke="#d6363a" stroke-width="2.3"/>
<polygon points="299.16,489.89 289.2,495.64 289.2,507.14 299.16,512.89 309.12,507.14 309.12,495.64" fill="#fff" stroke="#d6363a" stroke-width="2.3"/>
<polygon points="302.56,489.98 292.6,495.73 292.6,507.23 302.56,512.98 312.52,507.23 312.52,495.73" fill="#fff" stroke="#d6363a" stroke-width="2.3"/>
<polygon points="305.96,490.4 296,496.15 296,507.65 305.96,513.4 315.92,507.65 315.92,496.15" fill="#fff" stroke="#d6363a" stroke-width="2.3"/>
<polygon points="309.36,488.99 299.4,494.74 299.4,506.24 309.36,511.99 319.32,506.24 319.32,494.74" fill="#fff" stroke="#d6363a" stroke-width="2.3"/>
<polygon points="312.82,487.14 302.86,492.89 302.86,504.39 312.82,510.14 322.78,504.39 322.78,492.89" fill="#fff" stroke="#d6363a" stroke-width="2.3"/>
<polygon points="316.22,487.75 306.26,493.5 306.26,505 316.22,510.75 326.18,505 326.18,493.5" fill="#fff" stroke="#d6363a" stroke-width="2.3"/>
<polygon points="319.62,486.58 309.66,492.33 309.66,503.83 319.62,509.58 329.58,503.83 329.58,492.33" fill="#fff" stroke="#d6363a" stroke-width="2.3"/>
<polygon points="324.6,486.68 314.64,492.43 314.64,503.93 324.6,509.68 334.56,503.93 334.56,492.43" fill="#fff" stroke="#d6363a" stroke-width="2.3"/>
<polygon points="328,486.83 318.04,492.58 318.04,504.08 328,509.83 337.96,504.08 337.96,492.58" fill="#fff" stroke="#d6363a" stroke-width="2.3"/>
<polygon points="331.4,486.01 321.44,491.76 321.44,503.26 331.4,509.01 341.36,503.26 341.36,491.76" fill="#fff" stroke="#d6363a" stroke-width="2.3"/>
<polygon points="335.19,487.32 325.23,493.07 325.23,504.57 335.19,510.32 345.15,504.57 345.15,493.07" fill="#fff" stroke="#d6363a" stroke-width="2.3"/>
<polygon points="338.59,486.04 328.63,491.79 328.63,503.29 338.59,509.04 348.55,503.29 348.55,491.79" fill="#fff" stroke="#d6363a" stroke-width="2.3"/>
<polygon points="341.99,486.29 332.03,492.04 332.03,503.54 341.99,509.29 351.95,503.54 351.95,492.04" fill="#fff" stroke="#d6363a" stroke-width="2.3"/>
<polygon points="345.39,484.53 335.43,490.28 335.43,501.78 345.39,507.53 355.35,501.78 355.35,490.28" fill="#fff" stroke="#d6363a" stroke-width="2.3"/>
<polygon points="348.79,484.22 338.83,489.97 338.83,501.47 348.79,507.22 358.75,501.47 358.75,489.97" fill="#fff" stroke="#d6363a" stroke-width="2.3"/>
<polygon points="352.19,482.93 342.23,488.68 342.23,500.18 352.19,505.93 362.15,500.18 362.15,488.68" fill="#fff" stroke="#d6363a" stroke-width="2.3"/>
<polygon points="356.62,480.64 346.66,486.39 346.66,497.89 356.62,503.64 366.58,497.89 366.58,486.39" fill="#fff" stroke="#d6363a" stroke-width="2.3"/>
<polygon points="360.02,481.24 350.06,486.99 350.06,498.49 360.02,504.24 369.98,498.49 369.98,486.99" fill="#fff" stroke="#d6363a" stroke-width="2.3"/>
<polygon points="363.42,479.88 353.46,485.63 353.46,497.13 363.42,502.88 373.38,497.13 373.38,485.63" fill="#fff" stroke="#d6363a" stroke-width="2.3"/>
<polygon points="368.53,480.28 358.57,486.03 358.57,497.53 368.53,503.28 378.49,497.53 378.49,486.03" fill="#fff" stroke="#d6363a" stroke-width="2.3"/>
<polygon points="371.93,478.96 361.97,484.71 361.97,496.21 371.93,501.96 381.89,496.21 381.89,484.71" fill="#fff" stroke="#d6363a" stroke-width="2.3"/>
<polygon points="375.33,479.11 365.37,484.86 365.37,496.36 375.33,502.11 385.29,496.36 385.29,484.86" fill="#fff" stroke="#d6363a" stroke-width="2.3"/>
<polygon points="378.73,478.79 368.77,484.54 368.77,496.04 378.73,501.79 388.69,496.04 388.69,484.54" fill="#fff" stroke="#d6363a" stroke-width="2.3"/>
<polygon points="384.03,480.65 374.07,486.4 374.07,497.9 384.03,503.65 393.99,497.9 393.99,486.4" fill="#fff" stroke="#d6363a" stroke-width="2.3"/>
<polygon points="387.43,480.24 377.47,485.99 377.47,497.49 387.43,503.24 397.39,497.49 397.39,485.99" fill="#fff" stroke="#d6363a" stroke-width="2.3"/>
<polygon points="390.83,479.89 380.87,485.64 380.87,497.14 390.83,502.89 400.79,497.14 400.79,485.64" fill="#fff" stroke="#d6363a" stroke-width="2.3"/>
<polygon points="394.23,479.93 384.27,485.68 384.27,497.18 394.23,502.93 404.19,497.18 404.19,485.68" fill="#fff" stroke="#d6363a" stroke-width="2.3"/>
<polygon points="397.63,478.63 387.67,484.38 387.67,495.88 397.63,501.63 407.59,495.88 407.59,484.38" fill="#fff" stroke="#d6363a" stroke-width="2.3"/>
<polygon points="401.03,478.02 391.07,483.77 391.07,495.27 401.03,501.02 410.99,495.27 410.99,483.77" fill="#fff" stroke="#d6363a" stroke-width="2.3"/>
<polygon points="404.61,475.34 394.65,481.09 394.65,492.59 404.61,498.34 414.57,492.59 414.57,481.09" fill="#fff" stroke="#d6363a" stroke-width="2.3"/>
<polygon points="408.01,475.52 398.05,481.27 398.05,492.77 408.01,498.52 417.97,492.77 417.97,481.27" fill="#fff" stroke="#d6363a" stroke-width="2.3"/>
<polygon points="411.41,475.45 401.45,481.2 401.45,492.7 411.41,498.45 421.37,492.7 421.37,481.2" fill="#fff" stroke="#d6363a" stroke-width="2.3"/>
<polygon points="415.41,473.3 405.45,479.05 405.45,490.55 415.41,496.3 425.37,490.55 425.37,479.05" fill="#fff" stroke="#d6363a" stroke-width="2.3"/>
<polygon points="418.81,473.92 408.85,479.67 408.85,491.17 418.81,496.92 428.77,491.17 428.77,479.67" fill="#fff" stroke="#d6363a" stroke-width="2.3"/>
<polygon points="422.28,474.13 412.32,479.88 412.32,491.38 422.28,497.13 432.24,491.38 432.24,479.88" fill="#fff" stroke="#d6363a" stroke-width="2.3"/>
<polygon points="425.68,472.56 415.72,478.31 415.72,489.81 425.68,495.56 435.64,489.81 435.64,478.31" fill="#fff" stroke="#d6363a" stroke-width="2.3"/>
<polygon points="429.08,473.04 419.12,478.79 419.12,490.29 429.08,496.04 439.04,490.29 439.04,478.79" fill="#fff" stroke="#d6363a" stroke-width="2.3"/>
<polygon points="432.48,471.14 422.52,476.89 422.52,488.39 432.48,494.14 442.44,488.39 442.44,476.89" fill="#fff" stroke="#d6363a" stroke-width="2.3"/>
<polygon points="437.3,473.45 427.34,479.2 427.34,490.7 437.3,496.45 447.26,490.7 447.26,479.2" fill="#fff" stroke="#d6363a" stroke-width="2.3"/>
<polygon points="440.7,471.33 430.74,477.08 430.74,488.58 440.7,494.33 450.66,488.58 450.66,477.08" fill="#fff" stroke="#d6363a" stroke-width="2.3"/>
<polygon points="444.58,469.7 434.62,475.45 434.62,486.95 444.58,492.7 454.54,486.95 454.54,475.45" fill="#fff" stroke="#d6363a" stroke-width="2.3"/>
<polygon points="447.98,469.15 438.02,474.9 438.02,486.4 447.98,492.15 457.94,486.4 457.94,474.9" fill="#fff" stroke="#d6363a" stroke-width="2.3"/>
<polygon points="451.38,469.41 441.42,475.16 441.42,486.66 451.38,492.41 461.34,486.66 461.34,475.16" fill="#fff" stroke="#d6363a" stroke-width="2.3"/>
<polygon points="454.78,467.21 444.82,472.96 444.82,484.46 454.78,490.21 464.74,484.46 464.74,472.96" fill="#fff" stroke="#d6363a" stroke-width="2.3"/>
<polygon points="458.18,467.32 448.22,473.07 448.22,484.57 458.18,490.32 468.14,484.57 468.14,473.07" fill="#fff" stroke="#d6363a" stroke-width="2.3"/>
<polygon points="461.61,464.6 451.66,470.35 451.66,481.85 461.61,487.6 471.57,481.85 471.57,470.35" fill="#fff" stroke="#d6363a" stroke-width="2.3"/>
<polygon points="465.01,464.46 455.06,470.21 455.06,481.71 465.01,487.46 474.97,481.71 474.97,470.21" fill="#fff" stroke="#d6363a" stroke-width="2.3"/>
<polygon points="468.41,462.54 458.46,468.29 458.46,479.79 468.41,485.54 478.37,479.79 478.37,468.29" fill="#fff" stroke="#d6363a" stroke-width="2.3"/>
<polygon points="473.46,463.46 463.5,469.21 463.5,480.71 473.46,486.46 483.42,480.71 483.42,469.21" fill="#fff" stroke="#d6363a" stroke-width="2.3"/>
<polygon points="476.86,463.88 466.9,469.63 466.9,481.13 476.86,486.88 486.82,481.13 486.82,469.63" fill="#fff" stroke="#d6363a" stroke-width="2.3"/>
<polygon points="482.1,465.71 472.14,471.46 472.14,482.96 482.1,488.71 492.06,482.96 492.06,471.46" fill="#fff" stroke="#d6363a" stroke-width="2.3"/>
<polygon points="485.5,466.47 475.54,472.22 475.54,483.72 485.5,489.47 495.46,483.72 495.46,472.22" fill="#fff" stroke="#d6363a" stroke-width="2.3"/>
<polygon points="488.9,463.54 478.94,469.29 478.94,480.79 488.9,486.54 498.86,480.79 498.86,469.29" fill="#fff" stroke="#d6363a" stroke-width="2.3"/>
<polygon points="492.3,464 482.34,469.75 482.34,481.25 492.3,487 502.26,481.25 502.26,469.75" fill="#fff" stroke="#d6363a" stroke-width="2.3"/>
<polygon points="495.7,462.8 485.74,468.55 485.74,480.05 495.7,485.8 505.66,480.05 505.66,468.55" fill="#fff" stroke="#d6363a" stroke-width="2.3"/>
<polygon points="501,459.81 491.04,465.56 491.04,477.06 501,482.81 510.96,477.06 510.96,465.56" fill="#fff" stroke="#d6363a" stroke-width="2.3"/>
<polygon points="504.4,459.16 494.44,464.91 494.44,476.41 504.4,482.16 514.36,476.41 514.36,464.91" fill="#fff" stroke="#d6363a" stroke-width="2.3"/>
<polygon points="507.8,459.86 497.84,465.61 497.84,477.11 507.8,482.86 517.76,477.11 517.76,465.61" fill="#fff" stroke="#d6363a" stroke-width="2.3"/>
<polygon points="511.2,460.02 501.24,465.77 501.24,477.27 511.2,483.02 521.16,477.27 521.16,465.77" fill="#fff" stroke="#d6363a" stroke-width="2.3"/>
<polygon points="514.6,459.49 504.64,465.24 504.64,476.74 514.6,482.49 524.56,476.74 524.56,465.24" fill="#fff" stroke="#d6363a" stroke-width="2.3"/>
<polygon points="518,458.34 508.04,464.09 508.04,475.59 518,481.34 527.96,475.59 527.96,464.09" fill="#fff" stroke="#d6363a" stroke-width="2.3"/>
<polygon points="522.22,456.49 512.26,462.24 512.26,473.74 522.22,479.49 532.18,473.74 532.18,462.24" fill="#fff" stroke="#d6363a" stroke-width="2.3"/>
<polygon points="525.62,455.99 515.66,461.74 515.66,473.24 525.62,478.99 535.58,473.24 535.58,461.74" fill="#fff" stroke="#d6363a" stroke-width="2.3"/>
<polygon points="529.02,457.11 519.06,462.86 519.06,474.36 529.02,480.11 538.98,474.36 538.98,462.86" fill="#fff" stroke="#d6363a" stroke-width="2.3"/>
<polygon points="532.42,455.85 522.46,461.6 522.46,473.1 532.42,478.85 542.38,473.1 542.38,461.6" fill="#fff" stroke="#d6363a" stroke-width="2.3"/>
<polygon points="536.24,459.03 526.28,464.78 526.28,476.28 536.24,482.03 546.2,476.28 546.2,464.78" fill="#fff" stroke="#d6363a" stroke-width="2.3"/>
<polygon points="539.64,457.24 529.68,462.99 529.68,474.49 539.64,480.24 549.6,474.49 549.6,462.99" fill="#fff" stroke="#d6363a" stroke-width="2.3"/>
<polygon points="543.04,457.04 533.08,462.79 533.08,474.29 543.04,480.04 553,474.29 553,462.79" fill="#fff" stroke="#d6363a" stroke-width="2.3"/>
<polygon points="546.44,456.4 536.48,462.15 536.48,473.65 546.44,479.4 556.4,473.65 556.4,462.15" fill="#fff" stroke="#d6363a" stroke-width="2.3"/>
<polygon points="549.84,457.15 539.88,462.9 539.88,474.4 549.84,480.15 559.8,474.4 559.8,462.9" fill="#fff" stroke="#d6363a" stroke-width="2.3"/>
<polygon points="553.24,456.67 543.28,462.42 543.28,473.92 553.24,479.67 563.2,473.92 563.2,462.42" fill="#fff" stroke="#d6363a" stroke-width="2.3"/>
<polygon points="558.6,458.49 548.65,464.24 548.65,475.74 558.6,481.49 568.56,475.74 568.56,464.24" fill="#fff" stroke="#d6363a" stroke-width="2.3"/>
<polygon points="562,457.3 552.05,463.05 552.05,474.55 562,480.3 571.96,474.55 571.96,463.05" fill="#fff" stroke="#d6363a" stroke-width="2.3"/>
<polygon points="565.4,456.38 555.45,462.13 555.45,473.63 565.4,479.38 575.36,473.63 575.36,462.13" fill="#fff" stroke="#d6363a" stroke-width="2.3"/>
<polygon points="568.84,454.42 558.88,460.17 558.88,471.67 568.84,477.42 578.8,471.67 578.8,460.17" fill="#fff" stroke="#d6363a" stroke-width="2.3"/>
<polygon points="572.24,454.49 562.28,460.24 562.28,471.74 572.24,477.49 582.2,471.74 582.2,460.24" fill="#fff" stroke="#d6363a" stroke-width="2.3"/>
<polygon points="575.65,454.99 565.69,460.74 565.69,472.24 575.65,477.99 585.61,472.24 585.61,460.74" fill="#fff" stroke="#d6363a" stroke-width="2.3"/>
<polygon points="579.05,453.87 569.09,459.62 569.09,471.12 579.05,476.87 589.01,471.12 589.01,459.62" fill="#fff" stroke="#d6363a" stroke-width="2.3"/>
<polygon points="582.45,452.79 572.49,458.54 572.49,470.04 582.45,475.79 592.41,470.04 592.41,458.54" fill="#fff" stroke="#d6363a" stroke-width="2.3"/>
<polygon points="585.85,452.98 575.89,458.73 575.89,470.23 585.85,475.98 595.81,470.23 595.81,458.73" fill="#fff" stroke="#d6363a" stroke-width="2.3"/>
<polygon points="589.25,452.62 579.29,458.37 579.29,469.87 589.25,475.62 599.21,469.87 599.21,458.37" fill="#fff" stroke="#d6363a" stroke-width="2.3"/>
<polygon points="592.87,448.36 582.92,454.11 582.92,465.61 592.87,471.36 602.83,465.61 602.83,454.11" fill="#fff" stroke="#d6363a" stroke-width="2.3"/>
<polygon points="596.27,447.96 586.32,453.71 586.32,465.21 596.27,470.96 606.23,465.21 606.23,453.71" fill="#fff" stroke="#d6363a" stroke-width="2.3"/>
<polygon points="599.67,447.1 589.72,452.85 589.72,464.35 599.67,470.1 609.63,464.35 609.63,452.85" fill="#fff" stroke="#d6363a" stroke-width="2.3"/>
<polygon points="603.07,447.28 593.12,453.03 593.12,464.53 603.07,470.28 613.03,464.53 613.03,453.03" fill="#fff" stroke="#d6363a" stroke-width="2.3"/>
<polygon points="606.47,446.72 596.52,452.47 596.52,463.97 606.47,469.72 616.43,463.97 616.43,452.47" fill="#fff" stroke="#d6363a" stroke-width="2.3"/>
<polygon points="609.87,446.85 599.92,452.6 599.92,464.1 609.87,469.85 619.83,464.1 619.83,452.6" fill="#fff" stroke="#d6363a" stroke-width="2.3"/>
<polygon points="615.77,443.78 605.81,449.53 605.81,461.03 615.77,466.78 625.73,461.03 625.73,449.53" fill="#fff" stroke="#d6363a" stroke-width="2.3"/>
<polygon points="619.17,443.79 609.21,449.54 609.21,461.04 619.17,466.79 629.13,461.04 629.13,449.54" fill="#fff" stroke="#d6363a" stroke-width="2.3"/>
<polygon points="622.57,443.1 612.61,448.85 612.61,460.35 622.57,466.1 632.53,460.35 632.53,448.85" fill="#fff" stroke="#d6363a" stroke-width="2.3"/>
<polygon points="625.97,443.77 616.01,449.52 616.01,461.02 625.97,466.77 635.93,461.02 635.93,449.52" fill="#fff" stroke="#d6363a" stroke-width="2.3"/>
<polygon points="629.37,442.97 619.41,448.72 619.41,460.22 629.37,465.97 639.33,460.22 639.33,448.72" fill="#fff" stroke="#d6363a" stroke-width="2.3"/>
<polygon points="632.77,442.22 622.81,447.97 622.81,459.47 632.77,465.22 642.73,459.47 642.73,447.97" fill="#fff" stroke="#d6363a" stroke-width="2.3"/>
<polygon points="637.99,444.74 628.03,450.49 628.03,461.99 637.99,467.74 647.95,461.99 647.95,450.49" fill="#fff" stroke="#d6363a" stroke-width="2.3"/>
<polygon points="641.39,443.79 631.43,449.54 631.43,461.04 641.39,466.79 651.35,461.04 651.35,449.54" fill="#fff" stroke="#d6363a" stroke-width="2.3"/>
<polygon points="644.79,443.42 634.83,449.17 634.83,460.67 644.79,466.42 654.75,460.67 654.75,449.17" fill="#fff" stroke="#d6363a" stroke-width="2.3"/>
<polygon points="648.19,443.13 638.23,448.88 638.23,460.38 648.19,466.13 658.15,460.38 658.15,448.88" fill="#fff" stroke="#d6363a" stroke-width="2.3"/>
<polygon points="652.06,442.5 642.1,448.25 642.1,459.75 652.06,465.5 662.02,459.75 662.02,448.25" fill="#fff" stroke="#d6363a" stroke-width="2.3"/>
<polygon points="655.46,441.8 645.5,447.55 645.5,459.05 655.46,464.8 665.42,459.05 665.42,447.55" fill="#fff" stroke="#d6363a" stroke-width="2.3"/>
<polygon points="658.86,440.68 648.9,446.43 648.9,457.93 658.86,463.68 668.82,457.93 668.82,446.43" fill="#fff" stroke="#d6363a" stroke-width="2.3"/>
<polygon points="662.26,442.3 652.3,448.05 652.3,459.55 662.26,465.3 672.22,459.55 672.22,448.05" fill="#fff" stroke="#d6363a" stroke-width="2.3"/>
<polygon points="665.66,439.91 655.7,445.66 655.7,457.16 665.66,462.91 675.62,457.16 675.62,445.66" fill="#fff" stroke="#d6363a" stroke-width="2.3"/>
<polygon points="669.06,440.54 659.1,446.29 659.1,457.79 669.06,463.54 679.02,457.79 679.02,446.29" fill="#fff" stroke="#d6363a" stroke-width="2.3"/>
<polygon points="674.63,438.3 664.67,444.05 664.67,455.55 674.63,461.3 684.59,455.55 684.59,444.05" fill="#fff" stroke="#d6363a" stroke-width="2.3"/>
<polygon points="678.03,437.82 668.07,443.57 668.07,455.07 678.03,460.82 687.99,455.07 687.99,443.57" fill="#fff" stroke="#d6363a" stroke-width="2.3"/>
<polygon points="682.65,439.06 672.69,444.81 672.69,456.31 682.65,462.06 692.61,456.31 692.61,444.81" fill="#fff" stroke="#d6363a" stroke-width="2.3"/>
<polygon points="686.05,438.79 676.09,444.54 676.09,456.04 686.05,461.79 696.01,456.04 696.01,444.54" fill="#fff" stroke="#d6363a" stroke-width="2.3"/>
<polygon points="689.45,439.31 679.49,445.06 679.49,456.56 689.45,462.31 699.41,456.56 699.41,445.06" fill="#fff" stroke="#d6363a" stroke-width="2.3"/>
<polygon points="692.85,438.2 682.89,443.95 682.89,455.45 692.85,461.2 702.81,455.45 702.81,443.95" fill="#fff" stroke="#d6363a" stroke-width="2.3"/>
<polygon points="697.64,437.95 687.68,443.7 687.68,455.2 697.64,460.95 707.6,455.2 707.6,443.7" fill="#fff" stroke="#d6363a" stroke-width="2.3"/>
<polygon points="701.04,438.94 691.08,444.69 691.08,456.19 701.04,461.94 711,456.19 711,444.69" fill="#fff" stroke="#d6363a" stroke-width="2.3"/>
<polygon points="704.44,438.14 694.48,443.89 694.48,455.39 704.44,461.14 714.4,455.39 714.4,443.89" fill="#fff" stroke="#d6363a" stroke-width="2.3"/>
<polygon points="707.84,437.2 697.88,442.95 697.88,454.45 707.84,460.2 717.8,454.45 717.8,442.95" fill="#fff" stroke="#d6363a" stroke-width="2.3"/>
<polygon points="712.28,436.91 702.32,442.66 702.32,454.16 712.28,459.91 722.24,454.16 722.24,442.66" fill="#fff" stroke="#d6363a" stroke-width="2.3"/>
<polygon points="715.68,436.19 705.72,441.94 705.72,453.44 715.68,459.19 725.64,453.44 725.64,441.94" fill="#fff" stroke="#d6363a" stroke-width="2.3"/>
<polygon points="719.08,436.02 709.12,441.77 709.12,453.27 719.08,459.02 729.04,453.27 729.04,441.77" fill="#fff" stroke="#d6363a" stroke-width="2.3"/>
<polygon points="722.48,435.72 712.52,441.47 712.52,452.97 722.48,458.72 732.44,452.97 732.44,441.47" fill="#fff" stroke="#d6363a" stroke-width="2.3"/>
<polygon points="727.85,436.57 717.89,442.32 717.89,453.82 727.85,459.57 737.81,453.82 737.81,442.32" fill="#fff" stroke="#d6363a" stroke-width="2.3"/>
<polygon points="731.25,435.87 721.29,441.62 721.29,453.12 731.25,458.87 741.21,453.12 741.21,441.62" fill="#fff" stroke="#d6363a" stroke-width="2.3"/>
<polygon points="734.65,434.85 724.69,440.6 724.69,452.1 734.65,457.85 744.61,452.1 744.61,440.6" fill="#fff" stroke="#d6363a" stroke-width="2.3"/>
<polygon points="738.05,435.87 728.09,441.62 728.09,453.12 738.05,458.87 748.01,453.12 748.01,441.62" fill="#fff" stroke="#d6363a" stroke-width="2.3"/>
<polygon points="741.64,434.57 731.68,440.32 731.68,451.82 741.64,457.57 751.6,451.82 751.6,440.32" fill="#fff" stroke="#d6363a" stroke-width="2.3"/>
<polygon points="745.04,433.35 735.08,439.1 735.08,450.6 745.04,456.35 755,450.6 755,439.1" fill="#fff" stroke="#d6363a" stroke-width="2.3"/>
<polygon points="748.44,432.93 738.48,438.68 738.48,450.18 748.44,455.93 758.4,450.18 758.4,438.68" fill="#fff" stroke="#d6363a" stroke-width="2.3"/>
<polygon points="751.99,433.6 742.04,439.35 742.04,450.85 751.99,456.6 761.95,450.85 761.95,439.35" fill="#fff" stroke="#d6363a" stroke-width="2.3"/>
<polygon points="93,740.78 103,730.78 113,740.78 103,750.78" fill="#fff" stroke="#bb3a30" stroke-width="2.5"/>
<polygon points="98.2,747.15 108.2,737.15 118.2,747.15 108.2,757.15" fill="#fff" stroke="#bb3a30" stroke-width="2.5"/>
<polygon points="104.98,735.82 114.98,725.82 124.98,735.82 114.98,745.82" fill="#fff" stroke="#bb3a30" stroke-width="2.5"/>
<polygon points="110.18,733.93 120.18,723.93 130.18,733.93 120.18,743.93" fill="#fff" stroke="#bb3a30" stroke-width="2.5"/>
<polygon points="115.38,734.54 125.38,724.54 135.38,734.54 125.38,744.54" fill="#fff" stroke="#bb3a30" stroke-width="2.5"/>
<polygon points="120.58,735.59 130.58,725.59 140.58,735.59 130.58,745.59" fill="#fff" stroke="#bb3a30" stroke-width="2.5"/>
<polygon points="126.27,723.68 136.27,713.68 146.27,723.68 136.27,733.68" fill="#fff" stroke="#bb3a30" stroke-width="2.5"/>
<polygon points="131.47,729.26 141.47,719.26 151.47,729.26 141.47,739.26" fill="#fff" stroke="#bb3a30" stroke-width="2.5"/>
<polygon points="136.67,726.68 146.67,716.68 156.67,726.68 146.67,736.68" fill="#fff" stroke="#bb3a30" stroke-width="2.5"/>
<polygon points="141.87,728.06 151.87,718.06 161.87,728.06 151.87,738.06" fill="#fff" stroke="#bb3a30" stroke-width="2.5"/>
<polygon points="147.53,723.55 157.53,713.55 167.53,723.55 157.53,733.55" fill="#fff" stroke="#bb3a30" stroke-width="2.5"/>
<polygon points="152.73,720.8 162.73,710.8 172.73,720.8 162.73,730.8" fill="#fff" stroke="#bb3a30" stroke-width="2.5"/>
<polygon points="157.93,718.58 167.93,708.58 177.93,718.58 167.93,728.58" fill="#fff" stroke="#bb3a30" stroke-width="2.5"/>
<polygon points="164.23,720.44 174.23,710.44 184.23,720.44 174.23,730.44" fill="#fff" stroke="#bb3a30" stroke-width="2.5"/>
<polygon points="169.43,717.43 179.43,707.43 189.43,717.43 179.43,727.43" fill="#fff" stroke="#bb3a30" stroke-width="2.5"/>
<polygon points="174.63,719.32 184.63,709.32 194.63,719.32 184.63,729.32" fill="#fff" stroke="#bb3a30" stroke-width="2.5"/>
<polygon points="179.83,712.81 189.83,702.81 199.83,712.81 189.83,722.81" fill="#fff" stroke="#bb3a30" stroke-width="2.5"/>
<polygon points="185.51,714.27 195.51,704.27 205.51,714.27 195.51,724.27" fill="#fff" stroke="#bb3a30" stroke-width="2.5"/>
<polygon points="192.52,715.95 202.52,705.95 212.52,715.95 202.52,725.95" fill="#fff" stroke="#bb3a30" stroke-width="2.5"/>
<polygon points="197.72,715.84 207.72,705.84 217.72,715.84 207.72,725.84" fill="#fff" stroke="#bb3a30" stroke-width="2.5"/>
<polygon points="203.34,712.51 213.34,702.51 223.34,712.51 213.34,722.51" fill="#fff" stroke="#bb3a30" stroke-width="2.5"/>
<polygon points="208.54,712.91 218.54,702.91 228.54,712.91 218.54,722.91" fill="#fff" stroke="#bb3a30" stroke-width="2.5"/>
<polygon points="214.23,710.77 224.23,700.77 234.23,710.77 224.23,720.77" fill="#fff" stroke="#bb3a30" stroke-width="2.5"/>
<polygon points="219.43,711.06 229.43,701.06 239.43,711.06 229.43,721.06" fill="#fff" stroke="#bb3a30" stroke-width="2.5"/>
<polygon points="224.63,707.34 234.63,697.34 244.63,707.34 234.63,717.34" fill="#fff" stroke="#bb3a30" stroke-width="2.5"/>
<polygon points="230.48,707.29 240.48,697.29 250.48,707.29 240.48,717.29" fill="#fff" stroke="#bb3a30" stroke-width="2.5"/>
<polygon points="235.68,705.77 245.68,695.77 255.68,705.77 245.68,715.77" fill="#fff" stroke="#bb3a30" stroke-width="2.5"/>
<polygon points="240.88,707.95 250.88,697.95 260.88,707.95 250.88,717.95" fill="#fff" stroke="#bb3a30" stroke-width="2.5"/>
<polygon points="246.08,706.77 256.08,696.77 266.08,706.77 256.08,716.77" fill="#fff" stroke="#bb3a30" stroke-width="2.5"/>
<polygon points="251.48,694.54 261.48,684.54 271.48,694.54 261.48,704.54" fill="#fff" stroke="#bb3a30" stroke-width="2.5"/>
<polygon points="256.68,694.41 266.68,684.41 276.68,694.41 266.68,704.41" fill="#fff" stroke="#bb3a30" stroke-width="2.5"/>
<polygon points="261.9,690.21 271.9,680.21 281.9,690.21 271.9,700.21" fill="#fff" stroke="#bb3a30" stroke-width="2.5"/>
<polygon points="267.1,690.6 277.1,680.6 287.1,690.6 277.1,700.6" fill="#fff" stroke="#bb3a30" stroke-width="2.5"/>
<polygon points="272.3,687.53 282.3,677.53 292.3,687.53 282.3,697.53" fill="#fff" stroke="#bb3a30" stroke-width="2.5"/>
<polygon points="279.16,692.07 289.16,682.07 299.16,692.07 289.16,702.07" fill="#fff" stroke="#bb3a30" stroke-width="2.5"/>
<polygon points="284.36,690.87 294.36,680.87 304.36,690.87 294.36,700.87" fill="#fff" stroke="#bb3a30" stroke-width="2.5"/>
<polygon points="289.56,689.4 299.56,679.4 309.56,689.4 299.56,699.4" fill="#fff" stroke="#bb3a30" stroke-width="2.5"/>
<polygon points="296.2,684.05 306.2,674.05 316.2,684.05 306.2,694.05" fill="#fff" stroke="#bb3a30" stroke-width="2.5"/>
<polygon points="302.45,685.42 312.45,675.42 322.45,685.42 312.45,695.42" fill="#fff" stroke="#bb3a30" stroke-width="2.5"/>
<polygon points="307.65,684.76 317.65,674.76 327.65,684.76 317.65,694.76" fill="#fff" stroke="#bb3a30" stroke-width="2.5"/>
<polygon points="312.85,685.33 322.85,675.33 332.85,685.33 322.85,695.33" fill="#fff" stroke="#bb3a30" stroke-width="2.5"/>
<polygon points="320.02,680.12 330.02,670.12 340.02,680.12 330.02,690.12" fill="#fff" stroke="#bb3a30" stroke-width="2.5"/>
<polygon points="325.22,676.43 335.22,666.43 345.22,676.43 335.22,686.43" fill="#fff" stroke="#bb3a30" stroke-width="2.5"/>
<polygon points="331.23,679.34 341.23,669.34 351.23,679.34 341.23,689.34" fill="#fff" stroke="#bb3a30" stroke-width="2.5"/>
<polygon points="336.43,679.84 346.43,669.84 356.43,679.84 346.43,689.84" fill="#fff" stroke="#bb3a30" stroke-width="2.5"/>
<polygon points="341.63,679.12 351.63,669.12 361.63,679.12 351.63,689.12" fill="#fff" stroke="#bb3a30" stroke-width="2.5"/>
<polygon points="348.91,669.98 358.91,659.98 368.91,669.98 358.91,679.98" fill="#fff" stroke="#bb3a30" stroke-width="2.5"/>
<polygon points="354.11,674.37 364.11,664.37 374.11,674.37 364.11,684.37" fill="#fff" stroke="#bb3a30" stroke-width="2.5"/>
<polygon points="359.31,670.11 369.31,660.11 379.31,670.11 369.31,680.11" fill="#fff" stroke="#bb3a30" stroke-width="2.5"/>
<polygon points="364.51,667.64 374.51,657.64 384.51,667.64 374.51,677.64" fill="#fff" stroke="#bb3a30" stroke-width="2.5"/>
<polygon points="372,663.14 382,653.14 392,663.14 382,673.14" fill="#fff" stroke="#bb3a30" stroke-width="2.5"/>
<polygon points="377.2,661.36 387.2,651.36 397.2,661.36 387.2,671.36" fill="#fff" stroke="#bb3a30" stroke-width="2.5"/>
<polygon points="382.4,662.73 392.4,652.73 402.4,662.73 392.4,672.73" fill="#fff" stroke="#bb3a30" stroke-width="2.5"/>
<polygon points="390.1,658.8 400.1,648.8 410.1,658.8 400.1,668.8" fill="#fff" stroke="#bb3a30" stroke-width="2.5"/>
<polygon points="395.3,660.82 405.3,650.82 415.3,660.82 405.3,670.82" fill="#fff" stroke="#bb3a30" stroke-width="2.5"/>
<polygon points="400.5,653.91 410.5,643.91 420.5,653.91 410.5,663.91" fill="#fff" stroke="#bb3a30" stroke-width="2.5"/>
<polygon points="405.7,648.42 415.7,638.42 425.7,648.42 415.7,658.42" fill="#fff" stroke="#bb3a30" stroke-width="2.5"/>
<polygon points="411.09,661.22 421.09,651.22 431.09,661.22 421.09,671.22" fill="#fff" stroke="#bb3a30" stroke-width="2.5"/>
<polygon points="418.01,655.02 428.01,645.02 438.01,655.02 428.01,665.02" fill="#fff" stroke="#bb3a30" stroke-width="2.5"/>
<polygon points="424.15,655.21 434.15,645.21 444.15,655.21 434.15,665.21" fill="#fff" stroke="#bb3a30" stroke-width="2.5"/>
<polygon points="429.35,649.02 439.35,639.02 449.35,649.02 439.35,659.02" fill="#fff" stroke="#bb3a30" stroke-width="2.5"/>
<polygon points="434.7,649.75 444.7,639.75 454.7,649.75 444.7,659.75" fill="#fff" stroke="#bb3a30" stroke-width="2.5"/>
<polygon points="439.9,646.7 449.9,636.7 459.9,646.7 449.9,656.7" fill="#fff" stroke="#bb3a30" stroke-width="2.5"/>
<polygon points="445.1,645.16 455.1,635.16 465.1,645.16 455.1,655.16" fill="#fff" stroke="#bb3a30" stroke-width="2.5"/>
<polygon points="450.3,646.52 460.3,636.52 470.3,646.52 460.3,656.52" fill="#fff" stroke="#bb3a30" stroke-width="2.5"/>
<polygon points="457.66,648.91 467.66,638.91 477.66,648.91 467.66,658.91" fill="#fff" stroke="#bb3a30" stroke-width="2.5"/>
<polygon points="462.86,640.39 472.86,630.39 482.86,640.39 472.86,650.39" fill="#fff" stroke="#bb3a30" stroke-width="2.5"/>
<polygon points="468.06,640.04 478.06,630.04 488.06,640.04 478.06,650.04" fill="#fff" stroke="#bb3a30" stroke-width="2.5"/>
<polygon points="473.26,640.42 483.26,630.42 493.26,640.42 483.26,650.42" fill="#fff" stroke="#bb3a30" stroke-width="2.5"/>
<polygon points="480.15,636.72 490.15,626.72 500.15,636.72 490.15,646.72" fill="#fff" stroke="#bb3a30" stroke-width="2.5"/>
<polygon points="485.35,632.35 495.35,622.35 505.35,632.35 495.35,642.35" fill="#fff" stroke="#bb3a30" stroke-width="2.5"/>
<polygon points="490.55,632.8 500.55,622.8 510.55,632.8 500.55,642.8" fill="#fff" stroke="#bb3a30" stroke-width="2.5"/>
<polygon points="495.75,627.89 505.75,617.89 515.75,627.89 505.75,637.89" fill="#fff" stroke="#bb3a30" stroke-width="2.5"/>
<polygon points="501.54,630.76 511.54,620.76 521.54,630.76 511.54,640.76" fill="#fff" stroke="#bb3a30" stroke-width="2.5"/>
<polygon points="507.96,629.28 517.96,619.28 527.96,629.28 517.96,639.28" fill="#fff" stroke="#bb3a30" stroke-width="2.5"/>
<polygon points="513.16,627.09 523.16,617.09 533.16,627.09 523.16,637.09" fill="#fff" stroke="#bb3a30" stroke-width="2.5"/>
<polygon points="518.36,626.76 528.36,616.76 538.36,626.76 528.36,636.76" fill="#fff" stroke="#bb3a30" stroke-width="2.5"/>
<polygon points="524.61,620.56 534.61,610.56 544.61,620.56 534.61,630.56" fill="#fff" stroke="#bb3a30" stroke-width="2.5"/>
<polygon points="529.87,620.89 539.87,610.89 549.87,620.89 539.87,630.89" fill="#fff" stroke="#bb3a30" stroke-width="2.5"/>
<polygon points="535.07,619.99 545.07,609.99 555.07,619.99 545.07,629.99" fill="#fff" stroke="#bb3a30" stroke-width="2.5"/>
<polygon points="540.27,621.42 550.27,611.42 560.27,621.42 550.27,631.42" fill="#fff" stroke="#bb3a30" stroke-width="2.5"/>
<polygon points="545.98,613.94 555.98,603.94 565.98,613.94 555.98,623.94" fill="#fff" stroke="#bb3a30" stroke-width="2.5"/>
<polygon points="551.18,615.75 561.18,605.75 571.18,615.75 561.18,625.75" fill="#fff" stroke="#bb3a30" stroke-width="2.5"/>
<polygon points="556.38,613.64 566.38,603.64 576.38,613.64 566.38,623.64" fill="#fff" stroke="#bb3a30" stroke-width="2.5"/>
<polygon points="563.31,611.12 573.31,601.12 583.31,611.12 573.31,621.12" fill="#fff" stroke="#bb3a30" stroke-width="2.5"/>
<polygon points="568.51,613.18 578.51,603.18 588.51,613.18 578.51,623.18" fill="#fff" stroke="#bb3a30" stroke-width="2.5"/>
<polygon points="573.71,611.13 583.71,601.13 593.71,611.13 583.71,621.13" fill="#fff" stroke="#bb3a30" stroke-width="2.5"/>
<polygon points="578.91,607.01 588.91,597.01 598.91,607.01 588.91,617.01" fill="#fff" stroke="#bb3a30" stroke-width="2.5"/>
<polygon points="584.18,608.66 594.18,598.66 604.18,608.66 594.18,618.66" fill="#fff" stroke="#bb3a30" stroke-width="2.5"/>
<polygon points="589.38,605.92 599.38,595.92 609.38,605.92 599.38,615.92" fill="#fff" stroke="#bb3a30" stroke-width="2.5"/>
<polygon points="596.87,608.53 606.87,598.53 616.87,608.53 606.87,618.53" fill="#fff" stroke="#bb3a30" stroke-width="2.5"/>
<polygon points="603,600.53 613,590.53 623,600.53 613,610.53" fill="#fff" stroke="#bb3a30" stroke-width="2.5"/>
<polygon points="608.2,600.7 618.2,590.7 628.2,600.7 618.2,610.7" fill="#fff" stroke="#bb3a30" stroke-width="2.5"/>
<polygon points="613.4,598.96 623.4,588.96 633.4,598.96 623.4,608.96" fill="#fff" stroke="#bb3a30" stroke-width="2.5"/>
<polygon points="618.6,598.84 628.6,588.84 638.6,598.84 628.6,608.84" fill="#fff" stroke="#bb3a30" stroke-width="2.5"/>
<polygon points="623.87,597.42 633.87,587.42 643.87,597.42 633.87,607.42" fill="#fff" stroke="#bb3a30" stroke-width="2.5"/>
<polygon points="629.07,594.16 639.07,584.16 649.07,594.16 639.07,604.16" fill="#fff" stroke="#bb3a30" stroke-width="2.5"/>
<polygon points="634.27,597.27 644.27,587.27 654.27,597.27 644.27,607.27" fill="#fff" stroke="#bb3a30" stroke-width="2.5"/>
<polygon points="639.47,593.09 649.47,583.09 659.47,593.09 649.47,603.09" fill="#fff" stroke="#bb3a30" stroke-width="2.5"/>
<polygon points="646.19,595.36 656.19,585.36 666.19,595.36 656.19,605.36" fill="#fff" stroke="#bb3a30" stroke-width="2.5"/>
<polygon points="651.39,592.31 661.39,582.31 671.39,592.31 661.39,602.31" fill="#fff" stroke="#bb3a30" stroke-width="2.5"/>
<polygon points="658.92,590.15 668.92,580.15 678.92,590.15 668.92,600.15" fill="#fff" stroke="#bb3a30" stroke-width="2.5"/>
<polygon points="664.12,589.63 674.12,579.63 684.12,589.63 674.12,599.63" fill="#fff" stroke="#bb3a30" stroke-width="2.5"/>
<polygon points="669.32,587.7 679.32,577.7 689.32,587.7 679.32,597.7" fill="#fff" stroke="#bb3a30" stroke-width="2.5"/>
<polygon points="674.52,584.23 684.52,574.23 694.52,584.23 684.52,594.23" fill="#fff" stroke="#bb3a30" stroke-width="2.5"/>
<polygon points="681.69,576.45 691.69,566.45 701.69,576.45 691.69,586.45" fill="#fff" stroke="#bb3a30" stroke-width="2.5"/>
<polygon points="686.89,575.21 696.89,565.21 706.89,575.21 696.89,585.21" fill="#fff" stroke="#bb3a30" stroke-width="2.5"/>
<polygon points="692.09,577.52 702.09,567.52 712.09,577.52 702.09,587.52" fill="#fff" stroke="#bb3a30" stroke-width="2.5"/>
<polygon points="697.29,576.46 707.29,566.46 717.29,576.46 707.29,586.46" fill="#fff" stroke="#bb3a30" stroke-width="2.5"/>
<polygon points="704.15,576.39 714.15,566.39 724.15,576.39 714.15,586.39" fill="#fff" stroke="#bb3a30" stroke-width="2.5"/>
<polygon points="709.35,571.75 719.35,561.75 729.35,571.75 719.35,581.75" fill="#fff" stroke="#bb3a30" stroke-width="2.5"/>
<polygon points="715.74,574.17 725.74,564.17 735.74,574.17 725.74,584.17" fill="#fff" stroke="#bb3a30" stroke-width="2.5"/>
<polygon points="720.94,568.25 730.94,558.25 740.94,568.25 730.94,578.25" fill="#fff" stroke="#bb3a30" stroke-width="2.5"/>
<polygon points="726.14,572.89 736.14,562.89 746.14,572.89 736.14,582.89" fill="#fff" stroke="#bb3a30" stroke-width="2.5"/>
<polygon points="731.34,570.42 741.34,560.42 751.34,570.42 741.34,580.42" fill="#fff" stroke="#bb3a30" stroke-width="2.5"/>
<polygon points="738.63,567.35 748.63,557.35 758.63,567.35 748.63,577.35" fill="#fff" stroke="#bb3a30" stroke-width="2.5"/>
<polygon points="743.83,569.82 753.83,559.82 763.83,569.82 753.83,579.82" fill="#fff" stroke="#bb3a30" stroke-width="2.5"/>
<circle cx="103" cy="636.95" r="8.5" fill="#fff" stroke="#6cb64e" stroke-width="2.6"/>
<circle cx="110.48" cy="631.14" r="8.5" fill="#fff" stroke="#6cb64e" stroke-width="2.6"/>
<circle cx="117.97" cy="637.69" r="8.5" fill="#fff" stroke="#6cb64e" stroke-width="2.6"/>
<circle cx="125.45" cy="637.34" r="8.5" fill="#fff" stroke="#6cb64e" stroke-width="2.6"/>
<circle cx="132.93" cy="629.89" r="8.5" fill="#fff" stroke="#6cb64e" stroke-width="2.6"/>
<circle cx="140.41" cy="625.81" r="8.5" fill="#fff" stroke="#6cb64e" stroke-width="2.6"/>
<circle cx="147.9" cy="622.25" r="8.5" fill="#fff" stroke="#6cb64e" stroke-width="2.6"/>
<circle cx="155.38" cy="625.67" r="8.5" fill="#fff" stroke="#6cb64e" stroke-width="2.6"/>
<circle cx="162.86" cy="625.71" r="8.5" fill="#fff" stroke="#6cb64e" stroke-width="2.6"/>
<circle cx="170.34" cy="636.04" r="8.5" fill="#fff" stroke="#6cb64e" stroke-width="2.6"/>
<circle cx="177.83" cy="634.37" r="8.5" fill="#fff" stroke="#6cb64e" stroke-width="2.6"/>
<circle cx="185.31" cy="633.6" r="8.5" fill="#fff" stroke="#6cb64e" stroke-width="2.6"/>
<circle cx="192.79" cy="633.86" r="8.5" fill="#fff" stroke="#6cb64e" stroke-width="2.6"/>
<circle cx="200.28" cy="633.44" r="8.5" fill="#fff" stroke="#6cb64e" stroke-width="2.6"/>
<circle cx="207.76" cy="634.36" r="8.5" fill="#fff" stroke="#6cb64e" stroke-width="2.6"/>
<circle cx="215.24" cy="636.96" r="8.5" fill="#fff" stroke="#6cb64e" stroke-width="2.6"/>
<circle cx="222.72" cy="639.9" r="8.5" fill="#fff" stroke="#6cb64e" stroke-width="2.6"/>
<circle cx="230.21" cy="640.13" r="8.5" fill="#fff" stroke="#6cb64e" stroke-width="2.6"/>
<circle cx="237.69" cy="643.07" r="8.5" fill="#fff" stroke="#6cb64e" stroke-width="2.6"/>
<circle cx="245.17" cy="642.25" r="8.5" fill="#fff" stroke="#6cb64e" stroke-width="2.6"/>
<circle cx="252.66" cy="643.63" r="8.5" fill="#fff" stroke="#6cb64e" stroke-width="2.6"/>
<circle cx="260.14" cy="644.91" r="8.5" fill="#fff" stroke="#6cb64e" stroke-width="2.6"/>
<circle cx="267.62" cy="641.16" r="8.5" fill="#fff" stroke="#6cb64e" stroke-width="2.6"/>
<circle cx="275.1" cy="637.41" r="8.5" fill="#fff" stroke="#6cb64e" stroke-width="2.6"/>
<circle cx="282.59" cy="641.39" r="8.5" fill="#fff" stroke="#6cb64e" stroke-width="2.6"/>
<circle cx="290.07" cy="646.01" r="8.5" fill="#fff" stroke="#6cb64e" stroke-width="2.6"/>
<circle cx="297.55" cy="650.02" r="8.5" fill="#fff" stroke="#6cb64e" stroke-width="2.6"/>
<circle cx="305.03" cy="645.01" r="8.5" fill="#fff" stroke="#6cb64e" stroke-width="2.6"/>
<circle cx="312.52" cy="643.57" r="8.5" fill="#fff" stroke="#6cb64e" stroke-width="2.6"/>
<circle cx="320" cy="644.85" r="8.5" fill="#fff" stroke="#6cb64e" stroke-width="2.6"/>
<circle cx="327.48" cy="643.24" r="8.5" fill="#fff" stroke="#6cb64e" stroke-width="2.6"/>
<circle cx="334.97" cy="645.6" r="8.5" fill="#fff" stroke="#6cb64e" stroke-width="2.6"/>
<circle cx="342.45" cy="648.7" r="8.5" fill="#fff" stroke="#6cb64e" stroke-width="2.6"/>
<circle cx="349.93" cy="646.55" r="8.5" fill="#fff" stroke="#6cb64e" stroke-width="2.6"/>
<circle cx="357.41" cy="644.1" r="8.5" fill="#fff" stroke="#6cb64e" stroke-width="2.6"/>
<circle cx="364.9" cy="643.36" r="8.5" fill="#fff" stroke="#6cb64e" stroke-width="2.6"/>
<circle cx="372.38" cy="637.01" r="8.5" fill="#fff" stroke="#6cb64e" stroke-width="2.6"/>
<circle cx="379.86" cy="644.39" r="8.5" fill="#fff" stroke="#6cb64e" stroke-width="2.6"/>
<circle cx="387.34" cy="642.44" r="8.5" fill="#fff" stroke="#6cb64e" stroke-width="2.6"/>
<circle cx="394.83" cy="642.53" r="8.5" fill="#fff" stroke="#6cb64e" stroke-width="2.6"/>
<circle cx="402.31" cy="647.17" r="8.5" fill="#fff" stroke="#6cb64e" stroke-width="2.6"/>
<circle cx="409.79" cy="650.07" r="8.5" fill="#fff" stroke="#6cb64e" stroke-width="2.6"/>
<circle cx="417.28" cy="650.46" r="8.5" fill="#fff" stroke="#6cb64e" stroke-width="2.6"/>
<circle cx="424.76" cy="651.67" r="8.5" fill="#fff" stroke="#6cb64e" stroke-width="2.6"/>
<circle cx="432.24" cy="654.95" r="8.5" fill="#fff" stroke="#6cb64e" stroke-width="2.6"/>
<circle cx="439.72" cy="654.7" r="8.5" fill="#fff" stroke="#6cb64e" stroke-width="2.6"/>
<circle cx="447.21" cy="656.91" r="8.5" fill="#fff" stroke="#6cb64e" stroke-width="2.6"/>
<circle cx="454.69" cy="655.73" r="8.5" fill="#fff" stroke="#6cb64e" stroke-width="2.6"/>
<circle cx="462.17" cy="655.71" r="8.5" fill="#fff" stroke="#6cb64e" stroke-width="2.6"/>
<circle cx="469.66" cy="658.08" r="8.5" fill="#fff" stroke="#6cb64e" stroke-width="2.6"/>
<circle cx="477.14" cy="656.88" r="8.5" fill="#fff" stroke="#6cb64e" stroke-width="2.6"/>
<circle cx="484.62" cy="656.63" r="8.5" fill="#fff" stroke="#6cb64e" stroke-width="2.6"/>
<circle cx="492.1" cy="659.29" r="8.5" fill="#fff" stroke="#6cb64e" stroke-width="2.6"/>
<circle cx="499.59" cy="657.84" r="8.5" fill="#fff" stroke="#6cb64e" stroke-width="2.6"/>
<circle cx="507.07" cy="655.12" r="8.5" fill="#fff" stroke="#6cb64e" stroke-width="2.6"/>
<circle cx="514.55" cy="652.76" r="8.5" fill="#fff" stroke="#6cb64e" stroke-width="2.6"/>
<circle cx="522.03" cy="652.94" r="8.5" fill="#fff" stroke="#6cb64e" stroke-width="2.6"/>
<circle cx="529.52" cy="649.66" r="8.5" fill="#fff" stroke="#6cb64e" stroke-width="2.6"/>
<circle cx="537" cy="657.48" r="8.5" fill="#fff" stroke="#6cb64e" stroke-width="2.6"/>
<circle cx="544.48" cy="659.88" r="8.5" fill="#fff" stroke="#6cb64e" stroke-width="2.6"/>
<circle cx="551.97" cy="659.2" r="8.5" fill="#fff" stroke="#6cb64e" stroke-width="2.6"/>
<circle cx="559.45" cy="663.05" r="8.5" fill="#fff" stroke="#6cb64e" stroke-width="2.6"/>
<circle cx="566.93" cy="661.44" r="8.5" fill="#fff" stroke="#6cb64e" stroke-width="2.6"/>
<circle cx="574.41" cy="664.22" r="8.5" fill="#fff" stroke="#6cb64e" stroke-width="2.6"/>
<circle cx="581.9" cy="659.79" r="8.5" fill="#fff" stroke="#6cb64e" stroke-width="2.6"/>
<circle cx="589.38" cy="661.18" r="8.5" fill="#fff" stroke="#6cb64e" stroke-width="2.6"/>
<circle cx="596.86" cy="661.5" r="8.5" fill="#fff" stroke="#6cb64e" stroke-width="2.6"/>
<circle cx="604.34" cy="659.93" r="8.5" fill="#fff" stroke="#6cb64e" stroke-width="2.6"/>
<circle cx="611.83" cy="652.34" r="8.5" fill="#fff" stroke="#6cb64e" stroke-width="2.6"/>
<circle cx="619.31" cy="656.66" r="8.5" fill="#fff" stroke="#6cb64e" stroke-width="2.6"/>
<circle cx="626.79" cy="662.56" r="8.5" fill="#fff" stroke="#6cb64e" stroke-width="2.6"/>
<circle cx="634.28" cy="665.63" r="8.5" fill="#fff" stroke="#6cb64e" stroke-width="2.6"/>
<circle cx="641.76" cy="669.43" r="8.5" fill="#fff" stroke="#6cb64e" stroke-width="2.6"/>
<circle cx="649.24" cy="662.8" r="8.5" fill="#fff" stroke="#6cb64e" stroke-width="2.6"/>
<circle cx="656.72" cy="663.09" r="8.5" fill="#fff" stroke="#6cb64e" stroke-width="2.6"/>
<circle cx="664.21" cy="658.67" r="8.5" fill="#fff" stroke="#6cb64e" stroke-width="2.6"/>
<circle cx="671.69" cy="666.29" r="8.5" fill="#fff" stroke="#6cb64e" stroke-width="2.6"/>
<circle cx="679.17" cy="668.39" r="8.5" fill="#fff" stroke="#6cb64e" stroke-width="2.6"/>
<circle cx="686.66" cy="672.22" r="8.5" fill="#fff" stroke="#6cb64e" stroke-width="2.6"/>
<circle cx="694.14" cy="669.61" r="8.5" fill="#fff" stroke="#6cb64e" stroke-width="2.6"/>
<circle cx="701.62" cy="670.68" r="8.5" fill="#fff" stroke="#6cb64e" stroke-width="2.6"/>
<circle cx="709.1" cy="664.83" r="8.5" fill="#fff" stroke="#6cb64e" stroke-width="2.6"/>
<circle cx="716.59" cy="668.38" r="8.5" fill="#fff" stroke="#6cb64e" stroke-width="2.6"/>
<circle cx="724.07" cy="673.61" r="8.5" fill="#fff" stroke="#6cb64e" stroke-width="2.6"/>
<circle cx="731.55" cy="675.93" r="8.5" fill="#fff" stroke="#6cb64e" stroke-width="2.6"/>
<circle cx="739.03" cy="673.95" r="8.5" fill="#fff" stroke="#6cb64e" stroke-width="2.6"/>
<circle cx="746.52" cy="673.3" r="8.5" fill="#fff" stroke="#6cb64e" stroke-width="2.6"/>
<circle cx="754" cy="672.91" r="8.5" fill="#fff" stroke="#6cb64e" stroke-width="2.6"/>
<circle cx="510" cy="674" r="8.5" fill="#fff" stroke="#6cb64e" stroke-width="2.6"/>
</g>
<path d="M106.6,371.4 L114.82,371.39 L123.04,371.4 L131.26,371.41 L139.48,371.43 L147.7,371.46 L155.92,371.5 L164.14,371.55 L172.36,371.61 L180.58,371.68 L188.8,371.75 L197.02,371.83 L205.24,371.93 L213.46,372.03 L221.68,372.14 L229.9,372.26 L238.12,372.39 L246.34,372.53 L254.56,372.68 L262.78,372.84 L271.01,373 L279.23,373.18 L287.45,373.36 L295.67,373.56 L303.89,373.76 L312.11,373.97 L320.33,374.2 L328.55,374.43 L336.77,374.67 L344.99,374.92 L353.21,375.18 L361.43,375.45 L369.65,375.73 L377.87,376.02 L386.09,376.32 L394.31,376.63 L402.53,376.95 L410.75,377.28 L418.97,377.61 L427.19,377.96 L435.41,378.32 L443.63,378.69 L451.85,379.07 L460.07,379.45 L468.29,379.85 L476.51,380.26 L484.73,380.68 L492.95,381.1 L501.17,381.54 L509.39,381.99 L517.61,382.45 L525.83,382.92 L534.05,383.4 L542.27,383.88 L550.49,384.38 L558.71,384.89 L566.93,385.41 L575.15,385.94 L583.37,386.48 L591.59,387.03 L599.82,387.6 L608.04,388.17 L616.26,388.75 L624.48,389.34 L632.7,389.95 L640.92,390.56 L649.14,391.19 L657.36,391.82 L665.58,392.47 L673.8,393.13 L682.02,393.79 L690.24,394.47 L698.46,395.16 L706.68,395.86 L714.9,396.57 L723.12,397.3 L731.34,398.03 L739.56,398.77 L747.78,399.53 L756,400.29" fill="none" stroke="#000" stroke-width="6.8" stroke-linecap="round" stroke-dasharray="12.4 14.8" stroke-dashoffset="6.2"/>
<path d="M106.6,404.62 L114.82,404.04 L123.04,403.47 L131.26,402.88 L139.48,402.29 L147.7,401.7 L155.92,401.1 L164.14,400.51 L172.36,399.9 L180.58,399.3 L188.8,398.69 L197.02,398.08 L205.24,397.47 L213.46,396.86 L221.68,396.25 L229.9,395.64 L238.12,395.03 L246.34,394.42 L254.56,393.81 L262.78,393.2 L271.01,392.6 L279.23,392 L287.45,391.4 L295.67,390.8 L303.89,390.21 L312.11,389.62 L320.33,389.04 L328.55,388.47 L336.77,387.9 L344.99,387.33 L353.21,386.77 L361.43,386.22 L369.65,385.68 L377.87,385.15 L386.09,384.62 L394.31,384.1 L402.53,383.59 L410.75,383.09 L418.97,382.6 L427.19,382.13 L435.41,381.66 L443.63,381.2 L451.85,380.76 L460.07,380.33 L468.29,379.91 L476.51,379.5 L484.73,379.11 L492.95,378.73 L501.17,378.37 L509.39,378.02 L517.61,377.69 L525.83,377.37 L534.05,377.07 L542.27,376.78 L550.49,376.52 L558.71,376.27 L566.93,376.03 L575.15,375.82 L583.37,375.62 L591.59,375.45 L599.82,375.29 L608.04,375.16 L616.26,375.04 L624.48,374.95 L632.7,374.88 L640.92,374.83 L649.14,374.8 L657.36,374.79 L665.58,374.81 L673.8,374.85 L682.02,374.92 L690.24,375.01 L698.46,375.12 L706.68,375.26 L714.9,375.43 L723.12,375.62 L731.34,375.84 L739.56,376.09 L747.78,376.36 L756,376.67" fill="none" stroke="#000" stroke-width="6.8" stroke-linecap="round" stroke-dasharray="12.4 14.8" stroke-dashoffset="6.2"/>
<path d="M106.6,535.4 L114.82,534.1 L123.04,532.8 L131.26,531.49 L139.48,530.18 L147.7,528.86 L155.92,527.54 L164.14,526.22 L172.36,524.9 L180.58,523.58 L188.8,522.25 L197.02,520.92 L205.24,519.59 L213.46,518.27 L221.68,516.94 L229.9,515.61 L238.12,514.28 L246.34,512.95 L254.56,511.62 L262.78,510.3 L271.01,508.97 L279.23,507.65 L287.45,506.33 L295.67,505.01 L303.89,503.7 L312.11,502.39 L320.33,501.08 L328.55,499.77 L336.77,498.47 L344.99,497.18 L353.21,495.89 L361.43,494.6 L369.65,493.32 L377.87,492.05 L386.09,490.78 L394.31,489.51 L402.53,488.26 L410.75,487.01 L418.97,485.77 L427.19,484.53 L435.41,483.31 L443.63,482.09 L451.85,480.88 L460.07,479.68 L468.29,478.48 L476.51,477.3 L484.73,476.13 L492.95,474.97 L501.17,473.81 L509.39,472.67 L517.61,471.54 L525.83,470.42 L534.05,469.31 L542.27,468.22 L550.49,467.13 L558.71,466.06 L566.93,465.01 L575.15,463.96 L583.37,462.93 L591.59,461.91 L599.82,460.91 L608.04,459.92 L616.26,458.95 L624.48,457.99 L632.7,457.04 L640.92,456.12 L649.14,455.2 L657.36,454.31 L665.58,453.43 L673.8,452.57 L682.02,451.72 L690.24,450.9 L698.46,450.09 L706.68,449.3 L714.9,448.52 L723.12,447.77 L731.34,447.04 L739.56,446.32 L747.78,445.63 L756,444.95" fill="none" stroke="#000" stroke-width="6.8" stroke-linecap="round" stroke-dasharray="12.4 14.8" stroke-dashoffset="6.2"/>
<path d="M106.6,443.34 L114.82,444.07 L123.04,444.81 L131.26,445.56 L139.48,446.34 L147.7,447.12 L155.92,447.93 L164.14,448.75 L172.36,449.58 L180.58,450.43 L188.8,451.29 L197.02,452.17 L205.24,453.06 L213.46,453.97 L221.68,454.88 L229.9,455.82 L238.12,456.76 L246.34,457.72 L254.56,458.7 L262.78,459.68 L271.01,460.68 L279.23,461.69 L287.45,462.71 L295.67,463.74 L303.89,464.79 L312.11,465.84 L320.33,466.91 L328.55,467.99 L336.77,469.08 L344.99,470.18 L353.21,471.29 L361.43,472.41 L369.65,473.54 L377.87,474.68 L386.09,475.83 L394.31,476.98 L402.53,478.15 L410.75,479.33 L418.97,480.51 L427.19,481.7 L435.41,482.9 L443.63,484.11 L451.85,485.33 L460.07,486.55 L468.29,487.78 L476.51,489.02 L484.73,490.27 L492.95,491.52 L501.17,492.77 L509.39,494.04 L517.61,495.31 L525.83,496.58 L534.05,497.86 L542.27,499.15 L550.49,500.44 L558.71,501.74 L566.93,503.04 L575.15,504.34 L583.37,505.65 L591.59,506.97 L599.82,508.28 L608.04,509.6 L616.26,510.93 L624.48,512.25 L632.7,513.58 L640.92,514.92 L649.14,516.25 L657.36,517.59 L665.58,518.93 L673.8,520.27 L682.02,521.61 L690.24,522.95 L698.46,524.3 L706.68,525.64 L714.9,526.99 L723.12,528.34 L731.34,529.69 L739.56,531.03 L747.78,532.38 L756,533.73" fill="none" stroke="#000" stroke-width="6.8" stroke-linecap="round" stroke-dasharray="12.4 14.8" stroke-dashoffset="6.2"/>
<path d="M102.7,632.29 L110.98,632.82 L119.26,633.34 L127.55,633.87 L135.83,634.39 L144.11,634.92 L152.39,635.44 L160.68,635.97 L168.96,636.49 L177.24,637.01 L185.52,637.54 L193.81,638.06 L202.09,638.58 L210.37,639.1 L218.65,639.62 L226.93,640.14 L235.22,640.67 L243.5,641.19 L251.78,641.71 L260.06,642.23 L268.35,642.75 L276.63,643.27 L284.91,643.79 L293.19,644.31 L301.47,644.83 L309.76,645.36 L318.04,645.88 L326.32,646.4 L334.6,646.92 L342.89,647.44 L351.17,647.96 L359.45,648.48 L367.73,649.01 L376.02,649.53 L384.3,650.05 L392.58,650.58 L400.86,651.1 L409.14,651.62 L417.43,652.15 L425.71,652.67 L433.99,653.2 L442.27,653.72 L450.56,654.25 L458.84,654.77 L467.12,655.3 L475.4,655.83 L483.68,656.36 L491.97,656.89 L500.25,657.41 L508.53,657.94 L516.81,658.48 L525.1,659.01 L533.38,659.54 L541.66,660.07 L549.94,660.61 L558.23,661.14 L566.51,661.68 L574.79,662.21 L583.07,662.75 L591.35,663.29 L599.64,663.83 L607.92,664.37 L616.2,664.91 L624.48,665.45 L632.77,665.99 L641.05,666.54 L649.33,667.08 L657.61,667.63 L665.89,668.17 L674.18,668.72 L682.46,669.27 L690.74,669.82 L699.02,670.37 L707.31,670.93 L715.59,671.48 L723.87,672.04 L732.15,672.59 L740.44,673.15 L748.72,673.71 L757,674.27" fill="none" stroke="#000" stroke-width="6.8" stroke-linecap="round" stroke-dasharray="12.4 14.8" stroke-dashoffset="6.2"/>
<path d="M102.7,740.25 L110.98,738.24 L119.26,736.21 L127.55,734.18 L135.83,732.14 L144.11,730.08 L152.39,728.02 L160.68,725.94 L168.96,723.86 L177.24,721.76 L185.52,719.66 L193.81,717.54 L202.09,715.42 L210.37,713.29 L218.65,711.15 L226.93,709.01 L235.22,706.86 L243.5,704.7 L251.78,702.53 L260.06,700.36 L268.35,698.18 L276.63,695.99 L284.91,693.8 L293.19,691.6 L301.47,689.4 L309.76,687.2 L318.04,684.99 L326.32,682.78 L334.6,680.56 L342.89,678.34 L351.17,676.12 L359.45,673.89 L367.73,671.66 L376.02,669.43 L384.3,667.2 L392.58,664.97 L400.86,662.73 L409.14,660.5 L417.43,658.26 L425.71,656.03 L433.99,653.79 L442.27,651.56 L450.56,649.32 L458.84,647.09 L467.12,644.86 L475.4,642.63 L483.68,640.4 L491.97,638.18 L500.25,635.95 L508.53,633.74 L516.81,631.52 L525.1,629.31 L533.38,627.1 L541.66,624.89 L549.94,622.69 L558.23,620.5 L566.51,618.31 L574.79,616.13 L583.07,613.95 L591.35,611.78 L599.64,609.61 L607.92,607.45 L616.2,605.3 L624.48,603.15 L632.77,601.02 L641.05,598.89 L649.33,596.77 L657.61,594.66 L665.89,592.56 L674.18,590.46 L682.46,588.38 L690.74,586.3 L699.02,584.24 L707.31,582.19 L715.59,580.15 L723.87,578.12 L732.15,576.1 L740.44,574.09 L748.72,572.09 L757,570.11" fill="none" stroke="#000" stroke-width="6.8" stroke-linecap="round" stroke-dasharray="12.4 14.8" stroke-dashoffset="6.2"/>
</svg>
</body></html>
